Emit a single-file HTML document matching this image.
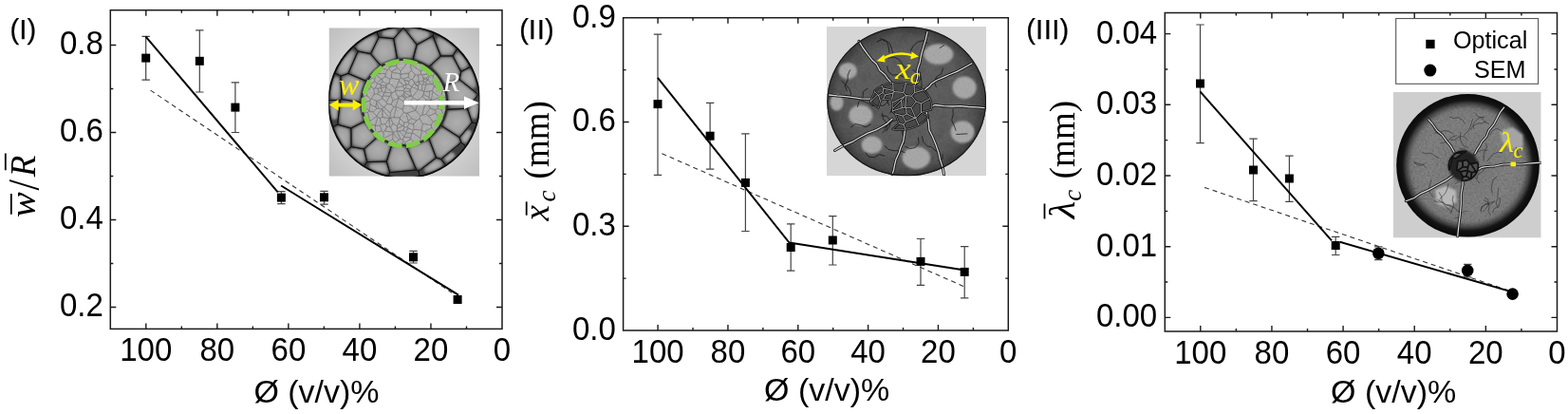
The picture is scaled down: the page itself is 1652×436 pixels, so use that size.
<!DOCTYPE html><html><head><meta charset="utf-8"><title>Figure</title><style>html,body{margin:0;padding:0;background:#fff;width:1652px;height:436px;overflow:hidden}svg{display:block}.tl{font-family:'Liberation Sans', Arial, sans-serif;font-size:35.4px;fill:#000}.pl{font-family:'Liberation Sans', Arial, sans-serif;font-size:29.4px;fill:#000;stroke:#000;stroke-width:0.25px}.xl{font-family:'Liberation Sans', Arial, sans-serif;font-size:34px;fill:#000}.sf{font-family:'Liberation Serif', 'Times New Roman', serif;font-size:37px;fill:#000}.lg{font-family:'Liberation Sans', Arial, sans-serif;font-size:25.2px;fill:#000}</style></head><body>
<svg width="1652" height="436" viewBox="0 0 1652 436">
<rect width="1652" height="436" fill="#fff"/>
<defs><radialGradient id="cellg" cx="50%" cy="50%" r="62%"><stop offset="0" stop-color="#afafaf"/><stop offset="0.65" stop-color="#a0a0a0"/><stop offset="1" stop-color="#7c7c7c"/></radialGradient><radialGradient id="bg1" cx="50%" cy="50%" r="72%"><stop offset="0.7" stop-color="#d0d0d0"/><stop offset="1" stop-color="#bcbcbc"/></radialGradient><radialGradient id="rim2" cx="50%" cy="50%" r="50%"><stop offset="0" stop-color="#3c3c3c"/><stop offset="0.7" stop-color="#3e3e3e"/><stop offset="0.9" stop-color="#2c2c2c"/><stop offset="0.98" stop-color="#161616"/><stop offset="1" stop-color="#262626"/></radialGradient><radialGradient id="rim3" cx="50%" cy="50%" r="50%"><stop offset="0" stop-color="#545454"/><stop offset="0.6" stop-color="#626262"/><stop offset="0.78" stop-color="#5a5a5a"/><stop offset="0.86" stop-color="#333"/><stop offset="0.91" stop-color="#151515"/><stop offset="1" stop-color="#080808"/></radialGradient><radialGradient id="patch" cx="50%" cy="50%" r="50%"><stop offset="0" stop-color="#a2a2a2"/><stop offset="0.75" stop-color="#989898"/><stop offset="1" stop-color="#7a7a7a" stop-opacity="0"/></radialGradient><filter id="nz" x="0" y="0" width="100%" height="100%"><feTurbulence type="fractalNoise" baseFrequency="0.45" numOctaves="2" seed="4"/><feColorMatrix type="matrix" values="0.5 0.5 0 0 0  0.5 0.5 0 0 0  0.5 0.5 0 0 0  0 0 0 0 1"/></filter><filter id="nz2" x="0" y="0" width="100%" height="100%"><feTurbulence type="fractalNoise" baseFrequency="0.08" numOctaves="3" seed="9"/><feColorMatrix type="matrix" values="0.5 0.5 0 0 0  0.5 0.5 0 0 0  0.5 0.5 0 0 0  0 0 0 0 1"/></filter><filter id="nzc" x="0" y="0" width="100%" height="100%"><feTurbulence type="fractalNoise" baseFrequency="0.45" numOctaves="2" seed="6"/><feColorMatrix type="matrix" values="0.5 0.5 0 0 0  0.5 0.5 0 0 0  0.5 0.5 0 0 0  0 0 0 0 1"/><feComposite operator="in" in2="SourceAlpha"/></filter><radialGradient id="fade3" cx="50%" cy="50%" r="50%"><stop offset="0" stop-color="#fff"/><stop offset="0.8" stop-color="#fff"/><stop offset="0.92" stop-color="#000"/></radialGradient><mask id="m3" maskUnits="userSpaceOnUse" x="1467" y="96" width="158" height="156"><circle cx="1546.5" cy="174.3" r="75.3" fill="url(#fade3)"/></mask><filter id="bl1"><feGaussianBlur stdDeviation="0.9"/></filter><filter id="bl2"><feGaussianBlur stdDeviation="2.2"/></filter><clipPath id="c1"><rect x="346.5" y="29.3" width="158.7" height="156.4"/></clipPath><clipPath id="c2"><rect x="871" y="28" width="168" height="157.3"/></clipPath><clipPath id="c3"><rect x="1467.8" y="97" width="155.9" height="153.6"/></clipPath><clipPath id="d1"><circle cx="425.9" cy="107.6" r="44"/></clipPath><clipPath id="d2"><ellipse cx="955.2" cy="106.8" rx="83.8" ry="78.6"/></clipPath><clipPath id="d3"><circle cx="1546.5" cy="174.3" r="75.3"/></clipPath></defs>
<g clip-path="url(#c1)">
<rect x="346.5" y="29.3" width="158.7" height="156.4" fill="url(#bg1)"/>
<circle cx="425.9" cy="107.8" r="80.3" fill="#404040"/>
<g filter="url(#bl1)">
<path d="M467.4 129.2L467.3 129.5L467.2 129.8L467.1 130.1L467.1 130.4L467.0 130.7L467.1 131.0L467.1 131.2L467.2 131.5L467.3 131.8L467.4 132.1L467.6 132.3L467.7 132.6L467.9 132.8L468.2 133.0L468.4 133.1L481.6 141.8L481.9 141.9L482.2 142.0L482.4 142.1L482.7 142.2L483.0 142.2L483.3 142.3L483.6 142.2L483.9 142.2L484.1 142.1L484.4 142.0L484.7 141.9L484.9 141.8L485.2 141.6L485.4 141.4L485.6 141.2L495.0 130.0L495.2 129.8L495.3 129.5L495.5 129.2L495.6 128.9L495.6 128.6L495.7 128.3L495.7 128.0L495.7 127.7L495.6 127.4L495.5 127.1L492.3 117.7L492.2 117.4L492.1 117.1L491.9 116.9L491.7 116.6L491.5 116.4L491.3 116.2L491.0 116.1L490.8 115.9L490.5 115.8L490.2 115.7L489.9 115.7L489.6 115.6L489.3 115.6L474.1 116.4L473.8 116.4L473.5 116.4L473.2 116.5L472.9 116.6L472.7 116.8L472.4 116.9L472.2 117.1L472.0 117.3L471.8 117.6L471.6 117.8L471.5 118.1L471.4 118.4L471.3 118.7L471.2 119.1L471.2 119.2L470.9 120.2L470.9 120.3L470.6 121.3L470.6 121.4L470.3 122.4L470.2 122.5L469.9 123.5L469.9 123.6L469.5 124.6L469.5 124.6L469.1 125.6L469.0 125.7L468.6 126.7L468.6 126.8L468.1 127.7L468.1 127.8L467.6 128.8L467.6 128.8Z" fill="url(#cellg)"/>
<path d="M454.9 144.4L454.6 144.6L454.4 144.8L454.3 145.1L454.1 145.3L454.0 145.6L453.9 145.8L453.8 146.1L453.8 146.4L453.7 146.7L453.7 147.0L453.8 147.3L453.8 147.5L453.9 147.8L459.8 163.7L460.0 164.0L460.1 164.2L460.2 164.4L460.4 164.7L460.6 164.9L460.8 165.0L461.1 165.2L461.3 165.3L461.6 165.4L461.8 165.5L462.9 165.8L463.2 165.9L463.5 166.0L463.8 166.0L464.0 165.9L464.3 165.9L464.6 165.8L464.9 165.7L465.1 165.6L465.4 165.5L465.6 165.3L482.9 151.0L483.1 150.8L483.3 150.6L483.5 150.3L483.7 150.1L483.8 149.8L483.9 149.5L484.0 149.2L484.0 148.9L484.0 148.6L484.0 148.3L483.9 148.0L483.8 147.7L483.4 146.6L483.3 146.3L483.2 146.0L483.1 145.8L482.9 145.6L482.7 145.4L482.5 145.2L482.2 145.0L467.2 135.2L467.0 135.1L466.7 134.9L466.4 134.8L466.1 134.8L465.8 134.7L465.5 134.7L465.2 134.8L464.9 134.8L464.6 134.9L464.3 135.0L464.1 135.1L463.8 135.3L463.6 135.5L463.4 135.7L463.2 135.9L462.7 136.5L462.7 136.6L462.0 137.4L462.0 137.5L461.3 138.3L461.2 138.3L460.5 139.1L460.5 139.2L459.7 140.0L459.7 140.0L458.9 140.8L458.9 140.8L458.1 141.6L458.1 141.6L457.3 142.4L457.2 142.4L456.4 143.1L456.4 143.2L455.6 143.9L455.5 143.9Z" fill="url(#cellg)"/>
<path d="M433.2 153.9L432.9 154.0L432.6 154.1L432.4 154.2L432.1 154.3L431.9 154.5L431.7 154.7L431.5 154.9L431.3 155.1L431.1 155.3L431.0 155.6L430.9 155.8L430.8 156.1L430.7 156.4L430.7 156.7L430.7 157.0L430.7 157.3L430.8 157.5L430.8 157.8L430.9 158.1L438.8 175.9L438.9 176.2L439.1 176.4L439.3 176.7L439.5 176.9L439.7 177.1L440.0 177.3L440.2 177.4L440.5 177.5L440.8 177.6L441.1 177.7L441.4 177.7L441.7 177.7L442.0 177.7L442.3 177.6L442.6 177.5L442.9 177.4L443.1 177.2L443.4 177.1L456.3 167.0L456.5 166.9L456.7 166.6L456.9 166.4L457.0 166.2L457.2 165.9L457.3 165.6L457.4 165.4L457.4 165.1L457.4 164.8L457.4 164.5L457.4 164.2L457.3 163.9L457.3 163.6L452.3 150.5L452.2 150.2L452.1 149.9L451.9 149.7L451.7 149.4L451.5 149.2L451.3 149.1L451.0 148.9L450.7 148.8L450.4 148.7L450.1 148.6L449.8 148.5L449.5 148.5L449.2 148.5L448.9 148.6L448.6 148.7L448.4 148.8L448.1 148.9L447.9 149.0L447.9 149.0L446.9 149.5L446.9 149.5L445.9 150.0L445.8 150.0L444.9 150.5L444.8 150.5L443.8 150.9L443.7 151.0L442.7 151.4L442.7 151.4L441.7 151.8L441.6 151.8L440.6 152.1L440.5 152.2L439.5 152.5L439.4 152.5L438.4 152.8L438.3 152.8L437.3 153.1L437.2 153.1L436.2 153.4L436.1 153.4L435.0 153.6L435.0 153.6L433.9 153.8L433.9 153.8Z" fill="url(#cellg)"/>
<path d="M408.9 169.2L408.8 169.4L408.7 169.7L408.7 170.0L408.7 170.3L408.8 170.6L408.8 170.9L410.9 178.0L410.9 178.3L411.1 178.5L411.2 178.8L411.4 179.0L411.6 179.3L411.8 179.5L412.0 179.6L412.3 179.8L412.6 179.9L412.8 180.0L413.1 180.1L413.4 180.2L413.7 180.2L414.0 180.2L432.9 178.4L433.2 178.3L433.5 178.2L433.8 178.1L434.1 178.0L434.3 177.9L434.6 177.7L434.8 177.5L435.0 177.3L435.2 177.0L435.3 176.8L435.4 176.5L435.5 176.2L435.6 175.9L435.6 175.6L435.6 175.3L435.6 175.0L435.6 174.7L435.5 174.4L435.4 174.2L427.5 156.3L427.4 156.0L427.2 155.8L427.1 155.6L426.9 155.3L426.7 155.2L426.4 155.0L426.2 154.8L425.9 154.7L425.6 154.6L425.4 154.5L425.1 154.5L424.8 154.5L424.8 154.5L424.7 154.5L423.6 154.4L423.6 154.4L422.5 154.4L422.4 154.4L421.4 154.3L421.3 154.3L420.2 154.2L420.2 154.1L419.1 154.0L419.0 154.0L417.9 153.8L417.9 153.8L416.8 153.6L416.8 153.6L416.5 153.5L416.2 153.5L416.0 153.5L415.7 153.5L415.4 153.5L415.1 153.6L414.8 153.7L414.5 153.8L414.3 154.0L414.0 154.2L413.8 154.3L413.6 154.6L413.4 154.8L413.3 155.1L413.2 155.3L413.1 155.6Z" fill="url(#cellg)"/>
<path d="M386.1 156.1L385.9 156.3L385.7 156.6L385.6 156.8L385.4 157.1L385.3 157.3L385.2 157.6L385.2 157.9L385.1 158.2L385.1 158.5L385.2 158.8L385.2 159.1L387.1 167.0L387.1 167.3L387.2 167.5L387.4 167.8L387.5 168.1L387.7 168.3L387.9 168.5L388.1 168.7L388.4 168.9L388.6 169.0L388.9 169.1L389.2 169.2L389.5 169.3L389.8 169.3L390.1 169.3L404.3 168.9L404.6 168.9L404.9 168.8L405.2 168.7L405.4 168.6L405.7 168.5L405.9 168.4L406.2 168.2L406.4 168.0L406.6 167.8L406.7 167.5L406.9 167.3L407.0 167.0L407.1 166.8L410.7 155.0L410.8 154.7L410.8 154.4L410.9 154.1L410.8 153.8L410.8 153.5L410.7 153.2L410.6 153.0L410.5 152.7L410.3 152.4L410.2 152.2L410.0 152.0L409.7 151.8L409.5 151.6L409.2 151.4L409.0 151.3L408.1 151.0L408.0 150.9L407.0 150.5L406.9 150.5L406.0 150.0L405.9 150.0L404.9 149.5L404.9 149.5L403.9 149.0L403.9 149.0L402.9 148.4L402.9 148.4L401.9 147.9L401.9 147.8L400.9 147.3L400.9 147.2L400.1 146.7L399.8 146.6L399.5 146.4L399.3 146.3L399.0 146.3L398.7 146.2L398.4 146.2L398.1 146.2L397.8 146.3L397.5 146.4L397.2 146.5L396.9 146.6L396.7 146.8L396.4 147.0Z" fill="url(#cellg)"/>
<path d="M372.7 134.9L372.4 135.0L372.2 135.2L372.0 135.4L371.8 135.6L371.6 135.9L371.4 136.1L371.3 136.4L371.2 136.7L371.1 137.0L371.1 137.3L371.1 137.6L371.2 151.1L371.3 151.4L371.3 151.7L371.4 152.0L371.5 152.2L371.6 152.5L371.8 152.8L372.0 153.0L372.2 153.2L372.4 153.4L372.6 153.6L372.9 153.7L373.2 153.8L373.4 153.9L373.7 154.0L381.7 155.4L382.0 155.4L382.3 155.4L382.6 155.4L382.9 155.3L383.2 155.3L383.4 155.1L383.7 155.0L384.0 154.8L384.2 154.7L393.8 146.2L394.0 146.0L394.2 145.7L394.3 145.5L394.5 145.2L394.6 145.0L394.7 144.7L394.7 144.4L394.8 144.1L394.8 143.8L394.7 143.5L394.7 143.2L394.6 142.9L394.5 142.7L394.4 142.4L394.2 142.2L394.0 141.9L393.8 141.7L393.7 141.6L393.7 141.6L392.9 140.8L392.9 140.8L392.1 140.0L392.1 140.0L391.3 139.2L391.3 139.1L390.6 138.3L390.5 138.3L389.8 137.5L389.8 137.4L389.1 136.6L389.1 136.5L388.4 135.6L388.4 135.6L387.7 134.7L387.7 134.7L387.1 133.8L387.1 133.7L386.5 132.8L386.4 132.8L385.9 131.8L385.8 131.8L385.6 131.5L385.5 131.2L385.3 131.0L385.1 130.8L384.8 130.6L384.6 130.4L384.3 130.3L384.0 130.1L383.8 130.1L383.5 130.0L383.2 130.0L382.9 130.0L382.6 130.0L382.3 130.1L382.0 130.2L381.7 130.3Z" fill="url(#cellg)"/>
<path d="M362.8 106.2L362.5 106.2L362.2 106.2L361.9 106.2L361.6 106.2L361.3 106.3L361.1 106.4L360.8 106.5L360.6 106.7L360.4 106.9L360.1 107.1L359.9 107.3L359.8 107.5L359.6 107.8L359.5 108.0L359.4 108.3L359.3 108.6L359.3 108.8L357.3 127.8L357.2 128.1L357.3 128.4L357.3 128.7L357.4 129.0L357.5 129.3L357.6 129.5L357.8 129.8L358.0 130.0L358.2 130.3L358.4 130.5L358.6 130.6L358.9 130.8L359.2 130.9L359.5 131.0L368.6 133.4L368.9 133.5L369.2 133.5L369.5 133.5L369.8 133.5L370.1 133.4L370.4 133.3L370.7 133.2L380.8 128.1L381.0 127.9L381.3 127.8L381.5 127.6L381.7 127.4L381.9 127.1L382.0 126.9L382.2 126.6L382.3 126.4L382.3 126.1L382.4 125.8L382.4 125.5L382.4 125.2L382.4 124.9L382.3 124.6L382.2 124.4L381.9 123.6L381.9 123.5L381.6 122.5L381.5 122.4L381.2 121.4L381.2 121.3L380.9 120.3L380.9 120.2L380.6 119.2L380.6 119.1L380.3 118.1L380.3 118.0L380.1 116.9L380.1 116.9L379.9 115.8L379.9 115.8L379.7 114.7L379.7 114.6L379.6 113.5L379.5 113.5L379.4 112.4L379.4 112.3L379.3 111.3L379.3 111.2L379.3 110.9L379.2 110.7L379.1 110.4L379.0 110.1L378.9 109.9L378.7 109.6L378.5 109.4L378.3 109.2L378.1 109.0L377.9 108.9L377.6 108.7L377.4 108.6L377.1 108.5L376.8 108.5Z" fill="url(#cellg)"/>
<path d="M367.9 79.1L367.6 79.0L367.3 79.0L367.0 78.9L366.7 78.9L366.4 78.9L366.0 79.0L365.7 79.1L362.3 80.2L362.0 80.3L361.7 80.5L361.5 80.6L361.2 80.8L361.0 81.0L360.8 81.3L360.7 81.5L360.5 81.8L360.4 82.0L360.3 82.3L360.3 82.6L360.2 82.9L360.2 83.2L361.0 101.1L361.0 101.4L361.1 101.6L361.2 101.9L361.3 102.2L361.4 102.5L361.6 102.7L361.8 102.9L362.0 103.1L362.2 103.3L362.4 103.5L362.7 103.6L363.0 103.7L363.3 103.8L363.5 103.9L376.0 105.9L376.2 105.9L376.5 106.0L376.8 105.9L377.1 105.9L377.4 105.8L377.6 105.7L377.9 105.6L378.2 105.4L378.4 105.2L378.6 105.0L378.8 104.8L378.9 104.6L379.1 104.3L379.2 104.1L379.3 103.8L379.4 103.5L379.4 103.2L379.4 103.2L379.5 102.1L379.6 102.1L379.7 101.0L379.7 100.9L379.9 99.8L379.9 99.8L380.1 98.7L380.1 98.7L380.3 97.6L380.3 97.5L380.6 96.5L380.6 96.4L380.9 95.4L380.9 95.3L381.2 94.3L381.2 94.2L381.5 93.2L381.6 93.1L381.9 92.1L381.9 92.0L382.3 91.0L382.3 91.0L382.7 90.0L382.8 89.9L383.2 88.9L383.3 88.6L383.4 88.4L383.4 88.1L383.4 87.8L383.4 87.5L383.4 87.2L383.3 86.9L383.2 86.6L383.1 86.4L382.9 86.1L382.8 85.9L382.6 85.6L382.4 85.4L382.1 85.3L381.9 85.1L381.6 85.0Z" fill="url(#cellg)"/>
<path d="M383.3 83.1L383.6 83.2L383.9 83.3L384.2 83.3L384.5 83.3L384.8 83.3L385.1 83.3L385.4 83.2L385.6 83.1L385.9 83.0L386.2 82.8L386.4 82.6L386.6 82.4L386.8 82.2L387.0 82.0L387.1 81.9L387.1 81.8L387.7 80.9L387.7 80.9L388.4 80.0L388.4 80.0L389.1 79.1L389.1 79.0L389.8 78.2L389.8 78.1L390.5 77.3L390.6 77.3L391.3 76.5L391.3 76.4L392.1 75.6L392.1 75.6L392.9 74.8L392.9 74.8L393.7 74.0L393.7 74.0L394.5 73.2L394.6 73.2L395.4 72.5L395.4 72.4L396.2 71.7L396.3 71.7L397.1 71.1L397.3 70.9L397.5 70.6L397.7 70.4L397.8 70.1L398.0 69.9L398.1 69.6L398.1 69.3L398.2 69.0L398.2 68.7L398.2 68.4L398.1 68.1L398.1 67.8L398.0 67.5L397.8 67.3L397.7 67.0L397.5 66.8L390.5 58.5L390.3 58.3L390.1 58.1L389.9 58.0L389.6 57.8L389.4 57.7L389.1 57.6L388.8 57.5L380.1 55.8L379.9 55.8L379.6 55.7L379.3 55.8L379.0 55.8L378.7 55.9L378.4 56.0L378.2 56.1L377.9 56.2L377.7 56.4L377.5 56.6L377.3 56.8L377.1 57.0L376.9 57.3L376.8 57.6L369.7 74.0L369.6 74.3L369.5 74.6L369.4 74.9L369.4 75.2L369.4 75.5L369.5 75.8L369.5 76.0L369.6 76.3L369.8 76.6L369.9 76.8L370.1 77.1L370.3 77.3L370.5 77.5L370.7 77.7L371.0 77.8L371.2 78.0Z" fill="url(#cellg)"/>
<path d="M400.0 66.0L400.2 66.2L400.4 66.4L400.6 66.6L400.9 66.7L401.2 66.9L401.4 67.0L401.7 67.0L402.0 67.1L402.3 67.1L402.6 67.1L402.9 67.0L403.2 66.9L403.5 66.8L403.7 66.7L403.9 66.6L403.9 66.6L404.9 66.1L404.9 66.1L405.9 65.6L406.0 65.6L406.9 65.1L407.0 65.1L408.0 64.7L408.1 64.6L409.1 64.2L409.1 64.2L410.1 63.8L410.2 63.8L411.2 63.5L411.3 63.4L412.3 63.1L412.4 63.1L413.4 62.8L413.5 62.8L414.5 62.5L414.6 62.5L414.6 62.5L414.9 62.4L415.2 62.3L415.4 62.2L415.7 62.0L415.9 61.8L416.1 61.6L416.3 61.3L416.5 61.1L416.6 60.8L416.7 60.5L416.8 60.3L416.9 60.0L416.9 59.7L416.9 59.4L416.8 59.1L414.2 44.1L414.2 43.8L414.1 43.5L413.9 43.2L413.8 43.0L413.6 42.7L413.4 42.5L413.2 42.3L413.0 42.1L412.7 42.0L412.4 41.8L412.1 41.7L411.9 41.7L411.6 41.6L401.9 40.6L401.6 40.6L401.3 40.6L401.0 40.7L400.7 40.8L400.4 40.9L400.1 41.0L399.9 41.2L399.6 41.3L399.4 41.6L399.2 41.8L399.0 42.0L398.9 42.3L392.8 54.7L392.7 55.0L392.6 55.3L392.5 55.5L392.5 55.8L392.5 56.1L392.5 56.4L392.6 56.7L392.6 57.0L392.7 57.2L392.9 57.5L393.0 57.7L393.2 58.0Z" fill="url(#cellg)"/>
<path d="M419.2 58.8L419.3 59.0L419.4 59.3L419.5 59.6L419.7 59.9L419.8 60.1L420.0 60.3L420.2 60.5L420.5 60.7L420.7 60.9L421.0 61.0L421.3 61.1L421.6 61.2L421.9 61.2L422.1 61.2L422.4 61.2L422.4 61.2L422.5 61.2L423.6 61.2L423.6 61.2L424.7 61.1L424.8 61.1L425.9 61.1L425.9 61.1L427.0 61.1L427.1 61.1L428.2 61.2L428.2 61.2L429.3 61.2L429.4 61.2L430.4 61.3L430.5 61.3L431.5 61.4L431.8 61.5L432.1 61.4L432.4 61.4L432.7 61.3L433.0 61.2L433.3 61.1L433.5 60.9L433.8 60.7L434.0 60.5L434.2 60.3L434.4 60.1L434.5 59.8L434.6 59.5L434.7 59.2L437.5 48.8L437.6 48.5L437.6 48.2L437.6 47.9L437.6 47.6L437.5 47.3L437.4 47.0L437.3 46.7L437.2 46.4L437.0 46.2L427.2 33.7L427.0 33.5L426.8 33.3L426.6 33.1L426.3 32.9L426.0 32.8L425.8 32.7L425.5 32.6L425.2 32.6L424.9 32.6L424.6 32.6L424.3 32.6L424.0 32.7L423.8 32.8L423.5 32.9L423.2 33.0L423.0 33.2L422.8 33.4L422.6 33.6L417.1 40.0L416.9 40.2L416.7 40.5L416.6 40.8L416.5 41.0L416.4 41.3L416.4 41.6L416.3 41.9L416.3 42.2L416.4 42.5Z" fill="url(#cellg)"/>
<path d="M437.2 59.4L437.1 59.7L437.1 60.0L437.1 60.3L437.1 60.5L437.1 60.8L437.2 61.1L437.3 61.4L437.5 61.6L437.6 61.9L437.8 62.1L438.0 62.3L438.2 62.5L438.4 62.7L438.7 62.8L439.0 63.0L439.2 63.0L439.4 63.1L439.5 63.1L440.5 63.4L440.6 63.5L441.6 63.8L441.7 63.8L442.7 64.2L442.7 64.2L443.7 64.6L443.8 64.7L444.8 65.1L444.9 65.1L445.8 65.6L445.9 65.6L446.9 66.1L446.9 66.1L447.9 66.6L447.9 66.6L448.9 67.2L448.9 67.2L449.9 67.7L450.0 67.8L450.0 67.8L450.2 67.9L450.5 68.0L450.8 68.1L451.1 68.2L451.4 68.2L451.7 68.2L451.9 68.2L452.2 68.1L452.5 68.0L452.8 67.9L453.1 67.8L453.3 67.6L453.5 67.4L461.4 60.1L461.6 59.9L461.8 59.6L462.0 59.4L462.1 59.1L462.2 58.8L462.3 58.6L462.4 58.3L462.4 58.0L462.4 57.7L462.4 57.4L462.3 57.1L462.2 56.8L456.7 42.7L456.6 42.4L456.4 42.2L456.2 41.9L456.0 41.7L455.8 41.5L455.6 41.3L455.3 41.2L455.1 41.0L454.8 40.9L454.5 40.9L454.2 40.8L453.9 40.8L453.6 40.8L453.3 40.9L453.0 40.9L452.7 41.0L452.5 41.2L441.4 47.3L441.1 47.4L440.9 47.6L440.7 47.8L440.5 48.0L440.3 48.3L440.1 48.5L440.0 48.8L439.9 49.1Z" fill="url(#cellg)"/>
<path d="M456.4 68.0L456.2 68.2L456.0 68.5L455.8 68.7L455.7 69.0L455.6 69.3L455.5 69.5L455.5 69.8L455.4 70.1L455.4 70.4L455.5 70.7L455.5 71.0L455.6 71.3L455.7 71.5L455.9 71.8L456.1 72.0L456.2 72.3L456.5 72.5L457.2 73.2L457.3 73.2L458.1 74.0L458.1 74.0L458.9 74.8L458.9 74.8L459.7 75.6L459.7 75.6L460.5 76.4L460.5 76.5L461.2 77.3L461.3 77.3L462.0 78.1L462.0 78.2L462.7 79.0L462.7 79.1L463.4 80.0L463.4 80.0L464.1 80.9L464.1 80.9L464.7 81.8L464.7 81.9L465.3 82.8L465.4 82.8L465.9 83.8L466.0 83.8L466.5 84.8L466.5 84.8L467.1 85.8L467.1 85.8L467.6 86.7L467.7 86.9L467.9 87.2L468.1 87.4L468.3 87.6L468.5 87.8L468.7 87.9L469.0 88.0L469.2 88.1L469.5 88.2L469.8 88.3L470.1 88.3L470.4 88.3L470.7 88.3L470.9 88.2L471.2 88.1L471.5 88.0L481.5 83.3L481.8 83.2L482.0 83.0L482.3 82.8L482.5 82.6L482.7 82.4L482.9 82.1L483.0 81.9L483.1 81.6L483.2 81.3L484.2 76.7L484.3 76.4L484.3 76.1L484.3 75.8L484.2 75.5L484.2 75.2L484.1 74.9L483.9 74.7L477.1 61.7L477.0 61.4L476.8 61.2L476.6 61.0L476.4 60.8L476.2 60.6L475.9 60.4L475.6 60.3L475.3 60.2L475.1 60.2L474.8 60.1L474.5 60.1L466.0 60.2L465.7 60.2L465.4 60.3L465.2 60.3L464.9 60.4L464.7 60.5L464.4 60.7L464.2 60.8L464.0 61.0Z" fill="url(#cellg)"/>
<path d="M472.1 90.4L471.9 90.5L471.6 90.7L471.4 90.9L471.2 91.1L471.0 91.3L470.8 91.5L470.7 91.8L470.6 92.0L470.5 92.3L470.4 92.6L470.4 92.9L470.4 93.2L470.4 93.4L470.4 93.7L470.5 94.0L470.6 94.2L470.6 94.3L470.9 95.3L470.9 95.4L471.2 96.4L471.2 96.5L471.5 97.5L471.5 97.6L471.7 98.7L471.7 98.7L471.9 99.8L471.9 99.8L472.1 100.9L472.1 101.0L472.2 102.1L472.3 102.1L472.4 103.2L472.4 103.3L472.5 104.3L472.5 104.4L472.5 105.5L472.5 105.5L472.6 106.6L472.6 106.7L472.6 107.8L472.6 107.8L472.6 108.9L472.6 109.0L472.5 110.1L472.5 110.1L472.5 110.7L472.5 111.0L472.5 111.3L472.6 111.6L472.7 111.9L472.8 112.1L472.9 112.4L473.1 112.6L473.3 112.9L473.5 113.1L473.7 113.3L473.9 113.4L474.2 113.6L474.5 113.7L474.8 113.8L475.1 113.8L475.3 113.9L475.6 113.9L490.5 113.2L490.8 113.2L491.0 113.1L491.3 113.0L491.6 112.9L491.8 112.8L492.1 112.6L492.3 112.5L492.5 112.3L492.7 112.1L500.5 102.2L500.7 101.9L500.8 101.7L500.9 101.4L501.0 101.1L501.1 100.8L501.1 100.6L501.1 100.3L501.1 100.0L501.1 99.7L501.0 99.4L500.9 99.1L500.8 98.9L500.6 98.6L500.4 98.4L500.2 98.2L500.0 98.0L485.2 86.1L484.9 85.9L484.7 85.8L484.4 85.7L484.1 85.6L483.8 85.5L483.5 85.5L483.2 85.5L482.9 85.5L482.6 85.5L482.3 85.6L482.1 85.7Z" fill="url(#cellg)"/>
<path d="M496.7 123.2L496.9 123.5L497.0 123.8L497.1 124.0L497.3 124.2L497.5 124.5L497.8 124.6L498.0 124.8L498.2 125.0L498.5 125.1L498.8 125.2L499.1 125.2L499.4 125.3L499.7 125.3L500.0 125.3L500.2 125.2L500.5 125.1L500.8 125.0L501.1 124.9L501.3 124.7L501.5 124.6L501.7 124.4L501.9 124.1L502.1 123.9L502.3 123.6L502.4 123.4L502.5 123.1L502.5 122.8L502.8 121.2L502.9 121.1L503.1 119.3L503.2 119.2L503.4 117.4L503.4 117.3L503.6 115.5L503.6 115.4L503.8 113.6L503.8 113.5L503.9 111.7L503.9 111.6L504.0 110.4L503.9 110.1L503.9 109.8L503.9 109.6L503.8 109.3L503.7 109.0L503.5 108.8L503.4 108.5L503.2 108.3L503.0 108.1L502.8 107.9L502.5 107.7L502.3 107.6L502.0 107.5L501.7 107.4L501.4 107.3L501.1 107.3L500.9 107.3L500.6 107.3L500.3 107.4L500.0 107.5L499.7 107.6L499.5 107.7L499.2 107.8L499.0 108.0L498.8 108.2L498.6 108.4L494.8 113.2L494.6 113.5L494.5 113.7L494.4 114.0L494.3 114.3L494.2 114.6L494.2 114.9L494.2 115.2L494.2 115.5L494.2 115.8L494.3 116.1Z" fill="url(#cellg)"/>
<path d="M487.7 150.0L487.9 150.1L488.2 150.3L488.5 150.4L488.7 150.5L489.0 150.6L489.3 150.6L489.6 150.6L489.9 150.6L490.2 150.6L490.5 150.5L490.8 150.4L491.1 150.2L491.3 150.1L491.5 149.9L491.8 149.7L491.9 149.4L492.1 149.2L492.9 148.0L492.9 147.9L493.8 146.3L493.9 146.3L494.8 144.6L494.8 144.6L495.6 142.9L495.7 142.9L496.5 141.2L496.5 141.2L496.6 141.0L496.7 140.7L496.8 140.4L496.9 140.1L496.9 139.8L496.9 139.5L496.8 139.2L496.8 138.9L496.7 138.6L496.6 138.4L496.4 138.1L496.3 137.9L496.1 137.6L495.8 137.4L495.6 137.3L495.4 137.1L495.1 137.0L494.8 136.9L494.5 136.8L494.2 136.7L493.9 136.7L493.6 136.7L493.4 136.8L493.1 136.8L492.8 136.9L492.5 137.0L492.3 137.2L492.0 137.4L491.8 137.6L491.6 137.8L486.6 143.8L486.4 144.0L486.2 144.3L486.1 144.6L486.0 144.8L485.9 145.1L485.9 145.4L485.9 145.8L485.9 146.1L485.9 146.4L486.0 146.7L486.7 148.5L486.8 148.8L486.9 149.1L487.0 149.3L487.2 149.5L487.4 149.7L487.6 149.9Z" fill="url(#cellg)"/>
<path d="M469.1 165.5L468.9 165.7L468.7 165.9L468.5 166.1L468.4 166.4L468.3 166.7L468.2 166.9L468.1 167.2L468.1 167.5L468.0 167.8L468.0 168.1L468.1 168.4L468.2 168.7L468.3 168.9L468.4 169.2L468.5 169.4L468.7 169.7L468.9 169.9L469.1 170.1L469.3 170.3L469.6 170.4L469.8 170.6L470.1 170.7L470.4 170.7L470.7 170.8L471.0 170.8L471.2 170.8L471.5 170.8L471.8 170.7L472.1 170.6L472.4 170.5L472.6 170.4L472.9 170.2L473.9 169.4L474.0 169.3L475.4 168.2L475.5 168.1L476.9 167.0L476.9 166.9L478.3 165.7L478.4 165.6L478.4 165.6L478.6 165.4L478.8 165.2L479.0 164.9L479.1 164.7L479.2 164.4L479.3 164.1L479.3 163.8L479.4 163.5L479.4 163.2L479.3 162.9L479.3 162.6L479.2 162.3L479.0 162.1L478.9 161.8L478.7 161.6L478.5 161.3L478.3 161.1L478.1 160.9L477.8 160.8L477.5 160.7L477.3 160.6L477.0 160.5L476.7 160.4L476.4 160.4L476.1 160.4L475.8 160.5L475.5 160.5L475.2 160.6L474.9 160.8L474.7 160.9L474.5 161.1Z" fill="url(#cellg)"/>
<path d="M447.8 176.7L447.6 176.9L447.4 177.1L447.2 177.3L447.0 177.6L446.9 177.8L446.8 178.1L446.7 178.4L446.6 178.7L446.6 178.9L446.6 179.2L446.7 179.5L446.7 179.8L446.8 180.1L446.9 180.4L447.0 180.6L447.2 180.8L447.4 181.1L447.6 181.3L447.8 181.5L448.1 181.6L448.3 181.8L448.6 181.9L448.9 182.0L449.2 182.0L449.4 182.1L449.7 182.1L450.0 182.0L450.3 182.0L450.6 181.9L452.2 181.3L452.2 181.3L454.0 180.7L454.0 180.7L455.8 180.0L455.8 179.9L457.5 179.2L457.6 179.2L459.3 178.4L459.3 178.4L461.0 177.6L461.0 177.5L462.7 176.7L462.7 176.7L464.4 175.8L464.4 175.7L464.9 175.4L465.2 175.3L465.4 175.1L465.6 174.9L465.8 174.6L466.0 174.4L466.1 174.1L466.2 173.9L466.3 173.6L466.4 173.3L466.4 173.0L466.4 172.7L466.4 172.4L466.3 172.1L466.2 171.8L466.1 171.5L466.0 171.3L465.8 171.0L464.6 169.4L464.4 169.2L464.1 169.0L463.9 168.8L463.6 168.6L463.3 168.5L463.0 168.4L461.2 167.8L460.9 167.8L460.6 167.7L460.3 167.7L460.1 167.7L459.8 167.8L459.5 167.9L459.2 167.9L459.0 168.1L458.7 168.2L458.5 168.4Z" fill="url(#cellg)"/>
<path d="M391.6 171.7L391.3 171.7L391.1 171.7L390.8 171.8L390.5 171.9L390.2 172.1L390.0 172.2L389.8 172.4L389.5 172.6L389.4 172.8L389.2 173.1L389.0 173.3L388.9 173.6L388.8 173.9L388.8 174.1L388.7 174.4L388.7 174.7L388.7 175.0L388.8 175.3L388.9 175.6L389.0 175.9L389.1 176.1L389.3 176.4L389.4 176.6L389.6 176.8L389.8 177.0L390.1 177.2L390.3 177.3L390.8 177.5L390.8 177.6L392.5 178.4L392.5 178.4L394.2 179.2L394.3 179.2L396.0 179.9L396.0 180.0L397.8 180.7L397.8 180.7L399.6 181.3L399.6 181.3L401.4 181.9L401.4 182.0L403.2 182.5L403.3 182.5L405.0 183.1L405.3 183.1L405.6 183.2L405.9 183.2L406.2 183.2L406.5 183.1L406.7 183.0L407.0 182.9L407.3 182.8L407.5 182.7L407.8 182.5L408.0 182.3L408.2 182.1L408.3 181.9L408.5 181.6L408.6 181.4L408.7 181.1L408.8 180.8L408.8 180.5L408.9 180.2L408.9 179.9L408.8 179.6L408.7 179.4L407.1 173.5L407.0 173.2L406.9 172.9L406.7 172.6L406.5 172.4L406.3 172.2L406.1 172.0L405.8 171.8L405.6 171.6L405.3 171.5L405.0 171.4L404.7 171.3L404.4 171.3L404.1 171.3Z" fill="url(#cellg)"/>
<path d="M369.2 156.8L369.0 157.0L368.8 157.2L368.6 157.4L368.5 157.7L368.4 157.9L368.3 158.2L368.2 158.5L368.1 158.8L368.1 159.1L368.1 159.4L368.1 159.6L368.2 159.9L368.3 160.2L368.4 160.5L368.6 160.7L368.7 161.0L368.9 161.2L369.3 161.6L369.4 161.7L370.6 163.0L370.7 163.1L372.0 164.3L372.1 164.4L373.4 165.6L373.5 165.7L374.9 166.9L374.9 167.0L376.3 168.1L376.4 168.2L377.8 169.3L377.9 169.4L379.3 170.5L379.4 170.6L380.1 171.1L380.4 171.2L380.6 171.4L380.9 171.5L381.2 171.6L381.5 171.6L381.8 171.6L382.1 171.6L382.3 171.6L382.6 171.6L382.9 171.5L383.2 171.4L383.4 171.2L383.7 171.1L383.9 170.9L384.1 170.7L384.3 170.5L384.5 170.2L384.6 170.0L384.7 169.7L384.8 169.4L384.9 169.1L384.9 168.8L384.9 168.5L384.9 168.3L384.8 168.0L382.9 159.9L382.9 159.6L382.7 159.3L382.6 159.1L382.5 158.8L382.3 158.6L382.1 158.4L381.9 158.2L381.6 158.0L381.4 157.9L381.1 157.8L380.8 157.7L380.5 157.6L371.7 156.1L371.5 156.1L371.2 156.0L370.9 156.1L370.6 156.1L370.4 156.2L370.1 156.3L369.8 156.4L369.6 156.5L369.4 156.7Z" fill="url(#cellg)"/>
<path d="M357.0 132.8L356.7 132.7L356.4 132.7L356.1 132.7L355.8 132.7L355.5 132.8L355.2 132.9L355.0 133.0L354.7 133.1L354.5 133.2L354.2 133.4L354.0 133.6L353.8 133.8L353.7 134.1L353.5 134.3L353.4 134.6L353.3 134.8L353.2 135.1L353.2 135.4L353.2 135.7L353.2 136.0L353.2 136.3L353.3 136.5L353.4 136.8L353.7 137.7L353.8 137.7L354.5 139.4L354.5 139.5L355.3 141.2L355.3 141.2L356.1 142.9L356.2 142.9L357.0 144.6L357.0 144.6L357.9 146.3L358.0 146.3L358.9 147.9L358.9 148.0L359.9 149.6L359.9 149.6L360.9 151.2L361.0 151.2L362.0 152.7L362.1 152.8L363.1 154.3L363.2 154.4L363.3 154.5L363.5 154.7L363.7 155.0L364.0 155.1L364.2 155.3L364.5 155.4L364.7 155.5L365.0 155.6L365.3 155.7L365.6 155.7L365.9 155.7L366.2 155.7L366.5 155.6L366.8 155.5L367.1 155.4L367.3 155.2L367.6 155.1L367.7 154.9L368.0 154.7L368.2 154.5L368.4 154.3L368.5 154.0L368.6 153.7L368.7 153.4L368.8 153.1L368.9 152.8L368.9 152.5L368.7 138.2L368.6 137.9L368.6 137.6L368.5 137.3L368.4 137.0L368.3 136.7L368.1 136.5L367.9 136.3L367.7 136.0L367.5 135.8L367.3 135.7L367.0 135.5L366.7 135.4L366.4 135.3Z" fill="url(#cellg)"/>
<path d="M350.9 106.8L350.5 106.8L350.2 106.8L350.0 106.9L349.7 107.0L349.4 107.1L349.1 107.3L348.9 107.5L348.7 107.7L348.5 107.9L348.3 108.1L348.2 108.4L348.0 108.7L347.9 109.0L347.9 109.3L347.8 109.6L347.8 109.9L347.9 111.6L347.9 111.7L348.0 113.5L348.0 113.6L348.2 115.4L348.2 115.5L348.4 117.3L348.4 117.4L348.6 119.2L348.7 119.3L348.9 121.1L349.0 121.2L349.3 123.0L349.3 123.1L349.4 123.6L349.5 123.9L349.6 124.1L349.7 124.4L349.9 124.6L350.0 124.9L350.2 125.1L350.5 125.3L350.7 125.5L351.0 125.6L351.2 125.7L351.5 125.8L351.8 125.9L352.1 125.9L352.4 126.0L352.6 125.9L352.9 125.9L353.2 125.8L353.5 125.7L353.8 125.6L354.0 125.5L354.2 125.3L354.5 125.1L354.7 124.9L354.8 124.6L355.0 124.4L355.1 124.1L355.2 123.8L355.3 123.6L355.3 123.3L356.7 110.1L356.8 109.8L356.8 109.5L356.7 109.2L356.6 108.9L356.5 108.7L356.4 108.4L356.3 108.1L356.1 107.9L355.9 107.7L355.7 107.5L355.5 107.3L355.2 107.2L354.9 107.0L354.7 106.9L354.4 106.8L354.1 106.8L353.8 106.8Z" fill="url(#cellg)"/>
<path d="M357.8 83.4L357.8 83.1L357.7 82.8L357.7 82.5L357.5 82.3L357.4 82.0L357.2 81.8L357.1 81.5L356.8 81.3L356.6 81.1L356.4 81.0L356.1 80.8L355.8 80.7L355.6 80.6L355.3 80.6L355.0 80.5L354.7 80.5L354.4 80.6L354.1 80.6L353.8 80.7L353.5 80.8L353.3 81.0L353.0 81.1L352.8 81.3L352.6 81.5L352.4 81.8L352.2 82.0L352.1 82.3L352.0 82.6L351.8 83.3L351.7 83.3L351.2 85.1L351.2 85.2L350.6 86.9L350.6 87.0L350.2 88.8L350.1 88.9L349.7 90.7L349.7 90.7L349.3 92.5L349.3 92.6L349.0 94.4L348.9 94.5L348.7 96.3L348.6 96.4L348.4 98.2L348.4 98.3L348.2 100.1L348.2 100.2L348.1 101.1L348.1 101.4L348.1 101.7L348.1 102.0L348.2 102.3L348.3 102.5L348.4 102.8L348.6 103.0L348.8 103.3L349.0 103.5L349.2 103.7L349.4 103.9L349.7 104.0L349.9 104.1L350.2 104.2L350.5 104.3L350.8 104.3L351.1 104.4L355.6 104.4L355.9 104.4L356.2 104.3L356.5 104.3L356.7 104.2L357.0 104.1L357.2 103.9L357.5 103.8L357.7 103.6L357.9 103.4L358.1 103.2L358.2 102.9L358.4 102.7L358.5 102.4L358.5 102.1L358.6 101.8L358.6 101.6L358.6 101.3Z" fill="url(#cellg)"/>
<path d="M355.6 73.8L355.5 74.0L355.4 74.3L355.3 74.6L355.3 74.9L355.3 75.2L355.3 75.5L355.4 75.7L355.5 76.0L355.6 76.3L355.7 76.6L355.8 76.8L356.0 77.0L356.2 77.2L356.4 77.4L356.7 77.6L356.9 77.7L357.9 78.2L358.1 78.3L358.4 78.4L358.7 78.5L359.0 78.5L359.3 78.6L359.6 78.5L359.9 78.5L360.2 78.4L364.7 76.9L365.0 76.8L365.2 76.6L365.5 76.5L365.7 76.3L365.9 76.1L366.1 75.9L366.3 75.7L366.4 75.5L366.5 75.2L374.4 57.1L374.5 56.8L374.6 56.5L374.6 56.2L374.6 55.9L374.6 55.6L374.6 55.3L374.5 55.0L374.4 54.8L374.3 54.5L374.1 54.2L374.0 54.0L373.8 53.8L373.6 53.6L373.3 53.4L373.1 53.2L372.8 53.1L372.5 53.0L372.2 52.9L371.9 52.9L371.6 52.9L371.3 52.9L371.0 52.9L370.8 53.0L370.5 53.1L370.2 53.2L370.0 53.4L369.7 53.6L369.5 53.8L369.4 53.9L369.3 54.0L368.1 55.3L368.0 55.4L366.8 56.8L366.7 56.8L365.6 58.2L365.5 58.3L364.4 59.7L364.3 59.8L363.2 61.2L363.1 61.3L362.1 62.8L362.0 62.9L361.0 64.4L360.9 64.4L359.9 66.0L359.9 66.0L358.9 67.6L358.9 67.7L358.0 69.3L357.9 69.3L357.0 71.0L357.0 71.0L356.2 72.7L356.1 72.7Z" fill="url(#cellg)"/>
<path d="M376.7 47.2L376.5 47.4L376.3 47.6L376.1 47.8L375.9 48.1L375.8 48.3L375.7 48.6L375.6 48.9L375.6 49.2L375.6 49.5L375.6 49.8L375.6 50.1L375.7 50.3L375.8 50.6L375.9 50.9L376.0 51.1L376.2 51.4L376.4 51.6L377.0 52.2L377.2 52.4L377.5 52.6L377.7 52.7L378.0 52.9L378.3 53.0L378.6 53.0L387.6 54.8L387.9 54.9L388.2 54.9L388.5 54.9L388.8 54.8L389.1 54.8L389.4 54.7L389.6 54.5L389.9 54.4L390.1 54.2L390.3 54.0L390.5 53.7L390.7 53.5L390.9 53.2L396.8 41.1L396.9 40.8L397.0 40.5L397.1 40.2L397.1 40.0L397.1 39.7L397.1 39.4L397.0 39.1L396.9 38.8L396.8 38.5L396.7 38.3L396.5 38.0L396.4 37.8L396.2 37.6L395.9 37.4L395.7 37.2L395.4 37.1L395.2 37.0L394.9 36.9L394.6 36.8L394.3 36.8L394.0 36.8L393.7 36.8L393.4 36.8L393.1 36.9L392.9 37.0L392.5 37.2L392.5 37.2L390.8 38.0L390.8 38.1L389.1 38.9L389.1 38.9L387.4 39.8L387.4 39.9L385.8 40.8L385.7 40.8L384.1 41.8L384.1 41.8L382.5 42.8L382.5 42.9L381.0 43.9L380.9 44.0L379.4 45.0L379.3 45.1L377.9 46.2L377.8 46.3Z" fill="url(#cellg)"/>
<path d="M404.5 32.7L404.3 32.8L404.0 32.9L403.7 33.1L403.5 33.2L403.3 33.4L403.1 33.6L402.9 33.9L402.7 34.1L402.6 34.4L402.5 34.7L402.4 35.0L402.4 35.2L402.4 35.5L402.4 35.8L402.4 36.1L402.5 36.4L402.6 36.7L402.7 37.0L402.9 37.2L403.1 37.5L403.2 37.7L403.5 37.9L403.7 38.1L404.0 38.2L404.2 38.3L404.5 38.4L404.8 38.5L405.1 38.5L412.8 39.3L413.1 39.3L413.4 39.3L413.7 39.3L413.9 39.2L414.2 39.1L414.5 39.0L414.7 38.9L415.0 38.7L415.2 38.5L415.4 38.3L417.9 35.4L418.1 35.1L418.2 34.9L418.3 34.6L418.4 34.4L418.5 34.1L418.6 33.8L418.6 33.5L418.6 33.2L418.6 32.9L418.5 32.7L418.4 32.4L418.3 32.1L418.2 31.9L418.0 31.6L417.8 31.4L417.6 31.2L417.4 31.0L417.1 30.8L416.9 30.7L416.6 30.6L416.4 30.5L416.1 30.5L415.8 30.4L415.5 30.4L415.2 30.4L414.5 30.5L414.4 30.6L412.6 30.8L412.5 30.9L410.7 31.2L410.6 31.2L408.8 31.6L408.8 31.6L407.0 32.0L406.9 32.1L405.1 32.5L405.0 32.5Z" fill="url(#cellg)"/>
<path d="M433.9 30.1L433.6 30.1L433.3 30.1L433.0 30.1L432.8 30.2L432.5 30.3L432.2 30.4L432.0 30.6L431.7 30.8L431.5 30.9L431.3 31.2L431.1 31.4L431.0 31.6L430.8 31.9L430.7 32.2L430.7 32.5L430.6 32.7L430.6 33.0L430.6 33.3L430.6 33.6L430.7 33.9L430.8 34.2L430.9 34.5L431.1 34.7L431.2 35.0L438.0 43.5L438.2 43.8L438.4 44.0L438.6 44.1L438.9 44.3L439.1 44.4L439.4 44.5L439.7 44.6L440.0 44.7L440.3 44.7L440.6 44.7L440.9 44.6L441.2 44.5L441.5 44.4L441.8 44.3L451.1 39.2L451.3 39.0L451.6 38.9L451.8 38.7L452.0 38.4L452.1 38.2L452.3 38.0L452.4 37.7L452.5 37.4L452.6 37.2L452.6 36.9L452.6 36.6L452.6 36.3L452.6 36.0L452.5 35.7L452.4 35.5L452.3 35.2L452.2 34.9L452.0 34.7L451.8 34.5L451.6 34.3L451.4 34.1L451.1 34.0L450.9 33.8L450.6 33.7L450.4 33.7L450.4 33.6L448.6 33.1L448.5 33.1L446.8 32.5L446.7 32.5L444.9 32.1L444.8 32.0L443.0 31.6L443.0 31.6L441.2 31.2L441.1 31.2L439.3 30.9L439.2 30.8L437.4 30.6L437.3 30.5L435.5 30.3L435.4 30.3Z" fill="url(#cellg)"/>
<path d="M463.7 39.5L463.4 39.3L463.2 39.2L462.9 39.2L462.6 39.1L462.3 39.1L462.0 39.1L461.7 39.1L461.4 39.2L461.1 39.3L460.9 39.4L460.6 39.6L460.4 39.7L460.2 39.9L460.0 40.1L459.8 40.4L459.6 40.6L459.5 40.9L459.4 41.2L459.3 41.4L459.3 41.7L459.2 42.0L459.3 42.3L459.3 42.6L459.4 42.9L459.5 43.2L464.4 55.9L464.5 56.1L464.7 56.4L464.9 56.7L465.1 56.9L465.3 57.1L465.5 57.3L465.8 57.4L466.1 57.6L466.3 57.7L466.6 57.7L466.9 57.8L467.2 57.8L474.7 57.7L475.0 57.7L475.3 57.6L475.6 57.6L475.9 57.4L476.2 57.3L476.4 57.2L476.6 57.0L476.9 56.8L477.1 56.6L477.2 56.3L478.9 53.8L479.0 53.5L479.1 53.2L479.2 52.9L479.3 52.6L479.3 52.3L479.3 52.0L479.3 51.7L479.2 51.4L479.1 51.1L479.0 50.9L478.9 50.6L478.7 50.3L478.5 50.1L478.3 49.9L476.9 48.7L476.9 48.6L475.5 47.5L475.4 47.4L474.0 46.3L473.9 46.2L472.5 45.1L472.4 45.0L470.9 44.0L470.8 43.9L469.3 42.9L469.3 42.8L467.7 41.8L467.7 41.8L466.1 40.8L466.0 40.8L464.4 39.9L464.4 39.8Z" fill="url(#cellg)"/>
<path d="M484.6 56.3L484.4 56.1L484.2 55.9L483.9 55.7L483.7 55.6L483.4 55.5L483.1 55.4L482.9 55.3L482.6 55.3L482.3 55.3L482.0 55.3L481.7 55.4L481.4 55.4L481.1 55.6L480.9 55.7L480.6 55.8L480.4 56.0L480.2 56.2L480.0 56.4L479.8 56.7L479.3 57.5L479.2 57.7L479.1 58.0L479.0 58.2L478.9 58.5L478.9 58.8L478.9 59.1L478.9 59.4L478.9 59.7L479.0 59.9L479.1 60.2L479.2 60.5L484.8 71.2L485.0 71.5L485.2 71.7L485.4 71.9L485.6 72.1L485.8 72.3L486.1 72.5L486.3 72.6L486.6 72.7L486.9 72.8L487.2 72.8L487.5 72.8L487.7 72.8L488.0 72.8L488.3 72.7L488.6 72.6L488.9 72.5L491.3 71.2L491.6 71.1L491.8 70.9L492.0 70.7L492.2 70.5L492.4 70.3L492.5 70.1L492.7 69.8L492.8 69.5L492.9 69.2L492.9 69.0L492.9 68.7L492.9 68.4L492.9 68.1L492.8 67.8L492.7 67.5L492.6 67.3L492.5 67.0L491.9 66.0L491.9 66.0L490.9 64.4L490.8 64.4L489.8 62.9L489.7 62.8L488.7 61.3L488.6 61.2L487.5 59.8L487.4 59.7L486.3 58.3L486.2 58.2L485.1 56.8L485.0 56.8Z" fill="url(#cellg)"/>
<path d="M496.6 74.7L496.5 74.5L496.3 74.2L496.1 74.0L495.9 73.8L495.7 73.6L495.4 73.4L495.2 73.3L494.9 73.1L494.6 73.1L494.3 73.0L494.0 73.0L493.7 73.0L493.4 73.0L493.1 73.1L492.8 73.2L492.6 73.3L488.0 75.6L487.8 75.8L487.5 75.9L487.3 76.1L487.1 76.3L486.9 76.6L486.8 76.8L486.6 77.1L486.5 77.4L486.5 77.6L485.6 81.3L485.6 81.6L485.6 81.9L485.6 82.2L485.6 82.5L485.7 82.8L485.8 83.0L485.9 83.3L486.1 83.6L486.3 83.8L486.5 84.1L486.7 84.3L497.0 92.5L497.3 92.7L497.5 92.8L497.8 92.9L498.1 93.0L498.4 93.1L498.7 93.1L498.9 93.1L499.2 93.1L499.5 93.1L499.8 93.0L500.1 92.9L500.4 92.8L500.6 92.6L500.9 92.4L501.1 92.2L501.3 92.0L501.4 91.7L501.6 91.5L501.7 91.2L501.8 90.9L501.9 90.6L501.9 90.3L501.9 90.0L501.9 89.7L501.8 89.5L501.7 88.9L501.6 88.8L501.2 87.0L501.2 86.9L500.6 85.2L500.6 85.1L500.1 83.3L500.0 83.3L499.4 81.5L499.4 81.5L498.8 79.7L498.8 79.7L498.1 77.9L498.0 77.9L497.3 76.2L497.3 76.1Z" fill="url(#cellg)"/>
</g>
<path d="M484.1 144.8L497.4 129.0L492.4 114.3L470.8 115.3L470.7 115.6L470.5 116.7L470.3 117.8L470.0 118.9L469.8 119.9L469.4 121.0L469.1 122.1L468.7 123.1L468.4 124.2L467.9 125.2L467.5 126.2L467.0 127.3L466.5 128.3L466.0 129.2L465.5 130.2L464.9 131.2L464.4 132.0L484.1 144.8M464.7 167.6L485.9 150.1L484.1 144.8L464.4 132.0L464.3 132.1L463.7 133.1L463.1 134.0L462.4 134.9L461.8 135.8L461.1 136.7L460.4 137.5L459.6 138.4L458.9 139.2L458.1 140.0L457.3 140.8L456.5 141.5L455.6 142.3L454.8 143.0L453.9 143.7L453.0 144.3L452.1 145.0L451.7 145.3L459.5 166.1L464.7 167.6M438.8 179.0L441.0 180.4L459.5 166.1L451.7 145.3L451.2 145.6L450.2 146.2L449.3 146.8L448.3 147.4L447.3 147.9L446.4 148.4L445.4 148.9L444.3 149.4L443.3 149.8L442.3 150.3L441.2 150.6L440.2 151.0L439.1 151.3L438.0 151.7L437.0 151.9L435.9 152.2L434.8 152.4L433.7 152.6L432.6 152.8L431.5 153.0L430.4 153.1L429.2 153.2L428.1 153.2L427.5 153.3L438.8 179.0M407.3 170.0L410.7 181.7L438.8 179.0L427.5 153.3L427.0 153.3L425.9 153.3L424.8 153.3L423.7 153.2L422.6 153.2L421.4 153.1L420.3 153.0L419.2 152.8L418.1 152.6L417.0 152.4L415.9 152.2L414.8 151.9L413.8 151.7L413.1 151.5L407.3 170.0M383.5 156.9L386.7 170.6L407.3 170.0L413.1 151.5L412.7 151.3L411.6 151.0L410.6 150.6L409.5 150.3L408.5 149.8L407.5 149.4L406.4 148.9L405.4 148.4L404.5 147.9L403.5 147.4L402.5 146.8L401.6 146.2L400.6 145.6L399.7 145.0L398.8 144.3L398.2 143.9L383.5 156.9M369.8 135.0L370.1 154.6L383.5 156.9L398.2 143.9L397.9 143.7L397.0 143.0L396.2 142.3L395.3 141.5L394.5 140.8L393.7 140.0L392.9 139.2L392.2 138.4L391.4 137.5L390.7 136.7L390.0 135.8L389.4 134.9L388.7 134.0L388.1 133.1L387.5 132.1L386.9 131.2L386.3 130.2L385.8 129.2L385.3 128.3L384.8 127.4L369.8 135.0M358.4 105.6L355.7 131.2L369.8 135.0L384.8 127.4L384.8 127.3L384.3 126.2L383.9 125.2L383.4 124.2L383.1 123.1L382.7 122.1L382.4 121.0L382.0 119.9L381.8 118.9L381.5 117.8L381.3 116.7L381.1 115.6L380.9 114.5L380.7 113.4L380.6 112.3L380.5 111.1L380.5 110.0L380.4 108.9L380.4 107.9L360.0 104.5L358.4 105.6M366.9 77.4L358.9 80.1L360.0 104.5L380.4 107.9L380.4 107.8L380.4 106.7L380.5 105.6L380.5 104.5L380.6 103.3L380.7 102.2L380.9 101.1L381.1 100.0L381.3 98.9L381.5 97.8L381.8 96.7L382.0 95.7L382.4 94.6L382.7 93.5L383.1 92.5L383.4 91.4L383.9 90.4L384.3 89.4L384.8 88.3L385.3 87.3L385.8 86.4L386.2 85.6L366.9 77.4M390.5 56.7L377.1 54.0L366.9 77.4L386.2 85.6L386.3 85.4L386.9 84.4L387.5 83.5L388.1 82.5L388.7 81.6L389.4 80.7L390.0 79.8L390.7 78.9L391.4 78.1L392.2 77.2L392.9 76.4L393.7 75.6L394.5 74.8L395.3 74.1L396.2 73.3L397.0 72.6L397.9 71.9L398.8 71.3L399.7 70.6L400.6 70.0L401.4 69.5L390.5 56.7M414.8 40.7L399.1 39.2L390.5 56.7L401.4 69.5L401.6 69.4L402.5 68.8L403.5 68.2L404.5 67.7L405.4 67.2L406.4 66.7L407.5 66.2L408.5 65.8L409.5 65.3L410.6 65.0L411.6 64.6L412.7 64.3L413.8 63.9L414.8 63.7L415.9 63.4L417.0 63.2L418.1 63.0L418.7 62.9L414.8 40.7M439.2 47.1L425.0 29.0L414.8 40.7L418.7 62.9L419.2 62.8L420.3 62.6L421.4 62.5L422.6 62.4L423.7 62.4L424.8 62.3L425.9 62.3L427.0 62.3L428.1 62.4L429.2 62.4L430.4 62.5L431.5 62.6L432.6 62.8L433.7 63.0L434.8 63.2L434.9 63.2L439.2 47.1M464.4 59.0L456.1 37.8L439.2 47.1L434.9 63.2L435.9 63.4L437.0 63.7L438.0 63.9L439.1 64.3L440.2 64.6L441.2 65.0L442.3 65.3L443.3 65.8L444.3 66.2L445.4 66.7L446.4 67.2L447.3 67.7L448.3 68.2L449.3 68.8L450.2 69.4L451.2 70.0L452.0 70.5L464.4 59.0M483.9 83.6L485.7 75.5L477.0 58.9L464.4 59.0L452.0 70.5L452.1 70.6L453.0 71.3L453.9 71.9L454.8 72.6L455.6 73.3L456.5 74.1L457.3 74.8L458.1 75.6L458.9 76.4L459.6 77.2L460.4 78.1L461.1 78.9L461.8 79.8L462.4 80.7L463.1 81.6L463.7 82.5L464.3 83.5L464.9 84.4L465.5 85.4L466.0 86.4L466.5 87.3L467.0 88.3L467.5 89.4L467.9 90.4L468.1 90.9L483.9 83.6M492.4 114.3L504.0 99.6L483.9 83.6L468.1 90.9L468.4 91.4L468.7 92.5L469.1 93.5L469.4 94.6L469.8 95.7L470.0 96.7L470.3 97.8L470.5 98.9L470.7 100.0L470.9 101.1L471.1 102.2L471.2 103.3L471.3 104.5L471.3 105.6L471.4 106.7L471.4 107.8L471.4 108.9L471.3 110.0L471.3 111.1L471.2 112.3L471.1 113.4L470.9 114.5L470.8 115.3L492.4 114.3M504.0 99.6L492.4 114.3L497.4 129.0L502.0 130.1L502.3 129.0L502.8 127.1L503.3 125.2L503.7 123.3L504.0 121.4L504.3 119.4L504.6 117.5L504.8 115.6L505.0 113.6L505.1 111.7L505.2 109.7L505.2 107.8L505.2 105.9L505.1 103.9L505.0 102.0L504.8 100.0L504.8 99.5L504.0 99.6M497.4 129.0L484.1 144.8L485.9 150.1L490.5 153.8L490.7 153.5L491.8 151.9L492.9 150.2L493.9 148.6L494.9 146.9L495.8 145.2L496.7 143.5L497.6 141.7L498.4 139.9L499.2 138.1L499.9 136.3L500.6 134.5L501.2 132.7L501.8 130.8L502.0 130.1L497.4 129.0M469.6 174.0L470.0 173.7L471.6 172.6L473.1 171.5L474.7 170.3L476.2 169.1L477.7 167.8L479.2 166.6L480.6 165.2L482.0 163.9L483.3 162.5L484.7 161.1L485.9 159.6L487.2 158.1L488.4 156.6L489.6 155.0L490.5 153.8L485.9 150.1L464.7 167.6L469.6 174.0M442.0 185.4L443.3 185.2L445.2 184.7L447.1 184.2L448.9 183.7L450.8 183.1L452.6 182.5L454.4 181.8L456.2 181.1L458.0 180.3L459.8 179.5L461.6 178.6L463.3 177.7L465.0 176.8L466.7 175.8L468.3 174.8L469.6 174.0L464.7 167.6L459.5 166.1L441.0 180.4L442.0 185.4M410.7 181.7L409.3 185.3L410.4 185.6L412.3 185.9L414.3 186.2L416.2 186.5L418.1 186.7L420.1 186.9L422.0 187.0L424.0 187.1L425.9 187.1L427.8 187.1L429.8 187.0L431.7 186.9L433.7 186.7L435.6 186.5L437.5 186.2L439.5 185.9L441.4 185.6L442.0 185.4L441.0 180.4L438.8 179.0L410.7 181.7M383.7 174.9L385.1 175.8L386.8 176.8L388.5 177.7L390.2 178.6L392.0 179.5L393.8 180.3L395.6 181.1L397.4 181.8L399.2 182.5L401.0 183.1L402.9 183.7L404.7 184.2L406.6 184.7L408.5 185.2L409.3 185.3L410.7 181.7L407.3 170.0L386.7 170.6L383.7 174.9M386.7 170.6L383.5 156.9L370.1 154.6L365.0 158.6L365.9 159.6L367.1 161.1L368.5 162.5L369.8 163.9L371.2 165.2L372.6 166.6L374.1 167.8L375.6 169.1L377.1 170.3L378.7 171.5L380.2 172.6L381.8 173.7L383.5 174.8L383.7 174.9L386.7 170.6M370.1 154.6L369.8 135.0L355.7 131.2L350.9 133.5L351.2 134.5L351.9 136.3L352.6 138.1L353.4 139.9L354.2 141.7L355.1 143.5L356.0 145.2L356.9 146.9L357.9 148.6L358.9 150.2L360.0 151.9L361.1 153.5L362.2 155.0L363.4 156.6L364.6 158.1L365.0 158.6L370.1 154.6M358.4 105.6L346.6 105.5L346.6 105.9L346.6 107.8L346.6 109.7L346.7 111.7L346.8 113.6L347.0 115.6L347.2 117.5L347.5 119.4L347.8 121.4L348.1 123.3L348.5 125.2L349.0 127.1L349.5 129.0L350.0 130.8L350.6 132.7L350.9 133.5L355.7 131.2L358.4 105.6M352.8 77.0L352.6 77.5L351.9 79.3L351.2 81.1L350.6 82.9L350.0 84.8L349.5 86.6L349.0 88.5L348.5 90.4L348.1 92.3L347.8 94.2L347.5 96.2L347.2 98.1L347.0 100.0L346.8 102.0L346.7 103.9L346.6 105.5L358.4 105.6L360.0 104.5L358.9 80.1L352.8 77.0M377.1 54.0L372.4 49.2L371.2 50.4L369.8 51.7L368.5 53.1L367.1 54.5L365.9 56.0L364.6 57.5L363.4 59.0L362.2 60.6L361.1 62.1L360.0 63.7L358.9 65.4L357.9 67.0L356.9 68.7L356.0 70.4L355.1 72.1L354.2 73.9L353.4 75.7L352.8 77.0L358.9 80.1L366.9 77.4L377.1 54.0M377.1 54.0L390.5 56.7L399.1 39.2L397.0 33.9L395.6 34.5L393.8 35.3L392.0 36.1L390.2 37.0L388.5 37.9L386.8 38.8L385.1 39.8L383.5 40.8L381.8 41.9L380.2 43.0L378.7 44.1L377.1 45.3L375.6 46.5L374.1 47.8L372.6 49.0L372.4 49.2L377.1 54.0M399.1 39.2L414.8 40.7L425.0 29.0L425.0 28.5L424.0 28.5L422.0 28.6L420.1 28.7L418.1 28.9L416.2 29.1L414.3 29.4L412.3 29.7L410.4 30.0L408.5 30.4L406.6 30.9L404.7 31.4L402.9 31.9L401.0 32.5L399.2 33.1L397.4 33.8L397.0 33.9L399.1 39.2M425.0 29.0L439.2 47.1L456.1 37.8L457.3 35.0L456.2 34.5L454.4 33.8L452.6 33.1L450.8 32.5L448.9 31.9L447.1 31.4L445.2 30.9L443.3 30.4L441.4 30.0L439.5 29.7L437.5 29.4L435.6 29.1L433.7 28.9L431.7 28.7L429.8 28.6L427.8 28.5L425.9 28.5L425.0 28.5L425.0 29.0M456.1 37.8L464.4 59.0L477.0 58.9L481.7 51.5L480.6 50.4L479.2 49.0L477.7 47.8L476.2 46.5L474.7 45.3L473.1 44.1L471.6 43.0L470.0 41.9L468.3 40.8L466.7 39.8L465.0 38.8L463.3 37.9L461.6 37.0L459.8 36.1L458.0 35.3L457.3 35.0L456.1 37.8M495.8 70.3L494.9 68.7L493.9 67.0L492.9 65.4L491.8 63.7L490.7 62.1L489.6 60.6L488.4 59.0L487.2 57.5L485.9 56.0L484.7 54.5L483.3 53.1L482.0 51.7L481.7 51.5L477.0 58.9L485.7 75.5L495.8 70.3M504.0 99.6L504.8 99.5L504.6 98.1L504.3 96.2L504.0 94.2L503.7 92.3L503.3 90.4L502.8 88.5L502.3 86.6L501.8 84.8L501.2 82.9L500.6 81.1L499.9 79.3L499.2 77.5L498.4 75.7L497.6 73.9L496.7 72.1L495.8 70.4L495.8 70.3L485.7 75.5L483.9 83.6L504.0 99.6" stroke="#101010" stroke-width="0.9" fill="none" opacity="0.9"/>
<circle cx="425.9" cy="107.8" r="45.5" fill="#2a2a2a" filter="url(#bl1)"/>
<circle cx="425.9" cy="107.8" r="44" fill="#a8a8a8"/>
<rect x="378.9" y="60.8" width="94" height="94" filter="url(#nz)" opacity="0.28" clip-path="url(#d1)"/>
<path d="M430.0 134.8L429.3 133.9L426.0 133.8L425.0 137.1L427.5 139.1L430.0 134.8M442.9 121.8L442.2 125.0L445.5 130.3L454.3 131.7L456.2 128.4L451.8 122.2L448.5 120.5L444.9 121.0L442.9 121.8M443.7 75.5L446.4 68.9L445.7 68.5L444.7 68.0L443.7 67.6L442.7 67.1L441.7 66.7L440.7 66.4L439.7 66.0L438.7 65.7L437.6 65.4L436.6 65.1L435.5 64.9L434.5 64.6L433.4 64.4L432.4 64.3L431.6 64.2L432.5 67.5L443.7 75.5M386.1 96.8L384.2 94.9L383.7 95.2L383.5 96.1L383.2 97.1L383.0 98.2L382.7 99.2L382.5 100.3L382.4 101.2L383.2 101.2L386.8 101.0L386.1 96.8M446.4 83.4L446.0 84.8L446.5 85.9L448.5 86.8L450.2 84.3L446.4 83.4M425.2 89.5L424.7 91.0L426.1 93.6L427.4 92.8L428.1 89.0L428.0 88.9L425.2 89.5M442.9 121.8L444.9 121.0L447.4 110.3L440.6 108.5L437.8 116.3L442.9 121.8M433.9 140.3L428.0 140.0L425.9 143.7L425.8 144.1L432.8 145.1L433.9 140.3M440.5 94.3L440.6 91.3L437.2 88.6L436.3 88.0L434.1 91.5L440.5 94.3M422.6 151.7L422.7 151.7L423.7 151.7L424.8 151.8L425.9 151.8L427.0 151.8L427.4 151.8L426.6 150.1L425.3 149.1L422.6 151.7M395.7 139.8L395.2 132.2L388.8 130.4L388.3 130.7L388.7 131.3L389.3 132.2L389.9 133.1L390.6 134.0L391.2 134.9L391.9 135.7L392.6 136.5L393.3 137.3L394.0 138.1L394.8 138.9L395.6 139.7L395.7 139.8L395.7 139.8M384.2 94.9L384.0 94.4L383.8 95.0L383.7 95.2L384.2 94.9M413.8 146.7L409.5 148.6L410.1 148.9L411.1 149.2L412.1 149.6L413.1 149.9L414.2 150.2L415.2 150.5L416.3 150.7L416.7 150.8L416.8 149.7L413.8 146.7M414.2 139.3L414.4 139.4L418.1 137.9L418.5 135.3L418.3 132.8L413.9 129.9L411.7 134.4L414.2 139.3M456.4 79.4L456.2 89.2L457.2 90.4L464.2 86.1L464.2 86.1L463.6 85.2L463.1 84.3L462.5 83.4L461.9 82.5L461.2 81.6L460.6 80.7L459.9 79.9L459.2 79.1L458.5 78.3L458.1 77.8L456.4 79.4M433.0 146.4L426.6 150.1L427.4 151.8L428.1 151.7L429.1 151.7L430.2 151.6L431.3 151.5L432.4 151.3L433.4 151.2L434.5 151.0L435.5 150.7L436.6 150.5L436.9 150.4L433.0 146.4M424.8 95.7L425.3 96.3L432.3 96.1L432.4 94.2L427.4 92.8L426.1 93.6L424.8 95.7M405.8 130.6L401.5 130.9L400.3 132.2L402.1 138.0L403.8 139.1L405.7 138.0L407.3 133.4L405.8 130.6M396.9 114.4L392.9 117.8L396.7 122.1L402.5 114.7L399.5 114.2L396.9 114.4M432.5 110.9L425.6 111.2L423.9 115.0L425.4 118.4L427.8 119.1L429.1 119.0L437.7 116.3L432.5 110.9M388.9 116.8L387.5 118.3L389.7 127.7L396.8 122.5L396.7 122.1L392.9 117.8L388.9 116.8M457.2 90.4L457.2 91.2L466.5 95.4L467.8 94.5L467.7 94.0L467.3 93.0L467.0 92.0L466.6 91.0L466.1 90.0L465.7 89.0L465.2 88.0L464.7 87.1L464.2 86.1L457.2 90.4M413.8 146.7L413.8 141.0L404.1 146.0L404.2 146.1L405.2 146.6L406.1 147.1L407.1 147.6L408.1 148.0L409.1 148.5L409.5 148.6L413.8 146.7M430.6 88.8L434.0 91.5L434.1 91.5L436.3 88.0L436.6 87.0L434.7 83.4L432.7 83.6L431.1 85.7L430.6 88.8M407.8 109.3L412.1 110.1L413.9 105.8L411.8 100.0L410.5 101.4L407.2 107.3L407.8 109.3M403.0 123.5L410.4 124.5L410.6 124.4L403.0 115.5L403.0 123.5M444.7 89.5L444.8 95.5L446.6 96.8L446.6 96.8L449.1 89.3L445.3 89.0L444.7 89.5M430.1 127.2L433.7 124.9L429.1 119.0L427.8 119.1L430.1 127.2M418.3 132.8L419.9 130.1L421.5 125.0L421.2 124.0L415.0 123.7L411.6 124.3L413.9 129.9L418.3 132.8M465.2 115.9L467.6 121.7L467.7 121.6L468.0 120.6L468.3 119.5L468.6 118.5L468.8 117.4L469.1 116.4L469.3 115.3L469.4 114.3L469.6 113.2L469.7 112.1L469.7 112.0L465.2 115.9M421.9 78.1L421.8 77.8L412.9 76.0L412.3 82.3L420.6 83.9L422.1 82.2L421.9 78.1M406.0 77.6L408.3 73.5L402.7 72.1L401.2 73.3L398.9 77.4L406.0 77.6M394.2 77.3L394.0 77.5L393.3 78.3L392.6 79.1L391.9 79.9L391.2 80.7L390.6 81.6L389.9 82.5L389.3 83.4L389.1 83.7L395.1 81.4L396.2 79.2L394.2 77.3M453.3 113.9L458.8 115.9L461.0 114.1L461.5 111.7L461.1 110.2L454.3 107.8L452.4 111.2L453.3 113.9M451.7 143.5L452.1 143.1L453.0 142.5L453.8 141.8L454.6 141.1L455.4 140.4L456.2 139.7L457.0 138.9L457.5 138.4L455.0 134.5L447.7 138.3L451.7 143.5M439.9 105.7L445.2 101.4L446.1 99.3L446.6 96.8L444.8 95.5L440.6 94.4L434.6 101.9L435.3 103.0L439.9 105.7M436.6 87.0L441.1 86.2L440.8 79.1L437.6 78.8L434.7 83.4L436.6 87.0M428.1 89.0L430.6 88.8L431.1 85.7L425.8 84.3L428.0 88.9L428.1 89.0M397.6 88.4L397.2 87.8L394.7 85.5L390.0 89.5L391.0 91.5L393.9 93.6L395.2 92.9L397.6 88.4M440.6 108.5L447.4 110.3L447.5 110.3L448.5 104.9L445.2 101.4L439.9 105.7L440.6 108.5M415.2 112.3L416.8 112.4L419.8 103.5L419.7 103.3L413.9 105.8L412.1 110.1L415.2 112.3M425.8 109.2L425.6 111.2L432.5 110.9L432.8 106.2L425.8 109.2M425.3 149.1L424.2 147.1L422.1 146.7L420.2 147.3L416.8 149.7L416.7 150.8L417.3 151.0L418.4 151.2L419.4 151.3L420.5 151.5L421.6 151.6L422.6 151.7L425.3 149.1M449.0 82.1L446.1 82.1L446.4 83.4L450.2 84.3L450.8 84.1L449.0 82.1M409.7 72.9L408.3 73.5L406.0 77.6L406.1 80.7L411.0 83.4L412.3 82.3L412.9 76.0L412.5 75.5L409.7 72.9M412.0 67.0L415.1 65.2L414.2 65.4L413.1 65.7L412.1 66.0L411.8 66.1L412.0 67.0M447.5 110.3L447.4 110.3L444.9 121.0L448.5 120.5L453.3 113.9L452.4 111.2L447.5 110.3M414.4 139.4L414.1 140.3L420.2 147.3L422.1 146.7L418.2 137.9L418.1 137.9L414.4 139.4M411.1 119.0L415.2 112.3L412.1 110.1L407.8 109.3L404.8 112.9L411.1 119.0M465.2 115.9L469.7 112.0L469.8 111.0L469.8 110.9L468.8 110.3L461.5 111.7L461.0 114.1L465.2 115.9M433.5 101.1L434.6 101.9L440.6 94.4L440.5 94.3L434.1 91.5L434.0 91.5L432.4 94.2L432.3 96.1L433.5 101.1M412.6 98.1L413.3 97.6L406.8 91.9L405.5 97.2L412.6 98.1M440.6 108.5L439.9 105.7L435.3 103.0L432.8 106.2L432.5 110.9L437.7 116.3L437.8 116.3L440.6 108.5M430.0 81.4L430.7 77.2L421.9 78.1L422.1 82.2L424.7 83.0L430.0 81.4M431.1 129.7L435.8 130.5L439.0 126.9L433.7 124.9L430.1 127.2L430.0 128.7L431.1 129.7M454.3 105.8L454.3 105.8L452.1 102.8L446.1 99.3L445.2 101.4L448.5 104.9L454.3 105.8M425.0 106.8L419.8 103.5L416.8 112.4L417.4 112.8L423.9 115.0L425.6 111.2L425.8 109.2L425.0 106.8M427.1 103.6L425.0 106.8L425.8 109.2L432.8 106.2L435.3 103.0L434.6 101.9L433.5 101.1L432.5 101.2L427.9 102.8L427.1 103.6M424.3 132.6L425.3 132.5L425.8 129.1L421.5 125.0L419.9 130.1L424.3 132.6M400.9 88.9L403.1 85.9L402.3 83.5L401.3 82.9L397.2 87.8L397.6 88.4L400.9 88.9M425.4 118.4L421.2 124.0L421.5 125.0L425.8 129.1L430.0 128.7L430.1 127.2L427.8 119.1L425.4 118.4M382.1 108.2L383.2 101.2L382.4 101.2L382.4 101.3L382.2 102.4L382.1 103.5L382.0 104.6L382.0 105.6L381.9 106.7L381.9 107.8L381.9 108.2L382.1 108.2M465.2 115.9L461.0 114.1L458.8 115.9L459.0 118.9L462.0 123.8L467.3 122.7L467.3 122.6L467.6 121.7L465.2 115.9M382.6 112.7L382.5 108.2L382.1 108.2L381.9 108.2L381.9 108.9L382.0 110.0L382.0 111.0L382.1 112.1L382.2 112.8L382.6 112.7M450.8 84.0L452.8 79.7L452.3 79.5L449.0 82.1L450.8 84.1L450.8 84.0M434.4 139.9L442.8 145.4L444.2 137.5L443.8 136.8L436.0 136.3L435.2 137.2L434.4 139.9M454.3 105.7L456.0 96.3L455.4 95.2L452.6 96.0L452.1 102.8L454.3 105.8L454.3 105.7M383.9 112.5L388.8 116.4L390.1 110.2L389.9 105.8L384.3 108.2L383.9 112.5M396.6 108.1L395.9 112.7L396.9 114.4L399.5 114.2L396.6 108.1M404.5 97.6L405.5 97.2L406.8 91.9L406.7 91.5L401.5 92.8L402.2 95.8L404.5 97.6M433.9 140.3L434.4 139.9L435.2 137.2L430.0 134.8L427.5 139.1L428.0 140.0L433.9 140.3M466.5 95.4L464.2 102.6L464.5 102.8L469.6 102.6L469.6 102.4L469.4 101.3L469.3 100.3L469.1 99.2L468.8 98.2L468.6 97.1L468.3 96.1L468.0 95.0L467.8 94.5L466.5 95.4M410.6 124.4L410.4 124.5L410.1 125.0L410.4 133.7L411.7 134.4L413.9 129.9L411.6 124.3L411.2 124.2L410.6 124.4M449.1 89.3L449.7 88.7L448.5 86.8L446.5 85.9L445.3 89.0L449.1 89.3M416.7 93.0L410.0 87.6L408.0 88.3L407.3 89.8L406.7 91.5L406.8 91.9L413.3 97.6L416.3 96.1L416.8 95.2L416.7 93.0M431.1 85.7L432.7 83.6L430.0 81.4L424.7 83.0L425.8 84.3L431.1 85.7M425.8 84.3L424.7 83.0L422.1 82.2L420.6 83.9L420.2 85.9L425.2 89.5L428.0 88.9L425.8 84.3M390.0 89.5L394.7 85.5L395.1 81.4L389.1 83.7L388.7 84.3L388.2 85.2L387.6 86.1L387.1 87.1L386.8 87.7L390.0 89.5M440.6 91.3L440.5 94.3L440.6 94.4L444.8 95.5L444.7 89.5L441.8 87.6L440.8 90.0L440.6 91.3M393.9 93.6L394.3 99.2L397.3 98.8L399.4 97.3L397.9 93.1L395.2 92.9L393.9 93.6M450.8 72.7L449.8 78.1L452.3 79.5L452.8 79.7L456.4 79.4L458.1 77.8L457.8 77.5L457.0 76.7L456.2 75.9L455.4 75.2L455.4 75.2L450.8 72.7M410.5 101.4L403.6 100.9L403.0 102.1L403.0 103.8L407.2 107.3L410.5 101.4M425.7 97.5L432.5 101.2L433.5 101.1L432.3 96.1L425.3 96.3L425.7 97.5M425.8 129.1L425.3 132.5L426.0 133.8L429.3 133.9L431.1 129.7L430.0 128.7L425.8 129.1M395.9 112.7L390.1 110.2L388.8 116.4L388.9 116.8L392.9 117.8L396.9 114.4L395.9 112.7M396.4 106.2L391.3 103.9L390.7 104.1L389.9 105.8L390.1 110.2L395.9 112.7L396.6 108.1L396.4 106.2M407.3 133.4L405.7 138.0L414.2 139.3L411.7 134.4L410.4 133.7L407.3 133.4M415.0 123.7L421.2 124.0L425.4 118.4L423.9 115.0L417.4 112.8L415.0 123.7M389.7 127.7L388.8 130.4L395.2 132.2L395.2 132.2L398.2 123.6L396.8 122.5L389.7 127.7M446.6 96.8L446.1 99.3L452.1 102.8L452.6 96.0L446.6 96.8L446.6 96.8M410.1 125.0L405.8 130.6L407.3 133.4L410.4 133.7L410.1 125.0M445.5 130.3L443.8 136.8L444.2 137.5L447.7 138.3L455.0 134.5L454.3 131.7L445.5 130.3M406.1 80.7L402.3 83.5L403.1 85.9L408.0 88.3L410.0 87.6L411.0 83.4L406.1 80.7M406.1 80.7L406.0 77.6L398.9 77.4L396.5 79.2L401.3 82.9L402.3 83.5L406.1 80.7M423.9 101.2L427.1 103.6L427.9 102.8L426.5 101.0L423.9 101.2M464.2 102.6L466.5 95.4L457.2 91.2L455.4 95.2L456.0 96.3L463.4 102.7L463.5 102.8L464.2 102.6M384.2 94.9L386.1 96.8L391.0 91.5L390.0 89.5L386.8 87.7L386.6 88.0L386.1 89.0L385.7 90.0L385.2 91.0L384.8 92.0L384.5 93.0L384.1 94.0L384.0 94.4L384.2 94.9M452.6 96.0L455.4 95.2L457.2 91.2L457.2 90.4L456.2 89.2L454.8 88.6L449.7 88.7L449.1 89.3L446.6 96.8L452.6 96.0M413.8 141.0L414.1 140.3L414.4 139.4L414.2 139.3L405.7 138.0L403.8 139.1L404.1 146.0L404.1 146.0L413.8 141.0M461.1 110.2L461.5 111.7L468.8 110.3L464.5 102.8L464.2 102.6L463.5 102.8L461.1 110.2M442.2 125.0L439.0 126.9L435.8 130.5L436.0 136.3L443.8 136.8L445.5 130.3L442.2 125.0M450.8 84.0L454.8 88.6L456.2 89.2L456.4 79.4L452.8 79.7L450.8 84.0M403.8 139.1L402.1 138.0L395.7 139.8L395.7 139.8L396.4 140.4L397.2 141.1L398.0 141.8L398.8 142.5L399.7 143.1L400.6 143.8L401.5 144.4L402.4 145.0L403.3 145.5L404.1 146.0L403.8 139.1M456.0 96.3L454.3 105.7L463.4 102.7L456.0 96.3M407.6 67.8L407.1 68.0L406.1 68.5L405.2 69.0L404.2 69.5L403.3 70.1L402.4 70.6L402.3 70.7L402.7 72.1L408.3 73.5L409.7 72.9L410.2 71.2L407.6 67.8M420.2 147.3L414.1 140.3L413.8 141.0L413.8 146.7L416.8 149.7L420.2 147.3M397.9 93.1L401.4 92.8L401.2 90.2L400.9 88.9L397.6 88.4L395.2 92.9L397.9 93.1M387.5 118.3L388.9 116.8L388.8 116.4L383.9 112.5L382.6 112.7L382.2 112.8L382.2 113.2L382.4 114.3L382.5 115.3L382.7 116.4L383.0 117.4L383.2 118.5L383.4 119.2L387.5 118.3M388.8 130.4L389.7 127.7L387.5 118.3L383.4 119.2L383.5 119.5L383.8 120.6L384.1 121.6L384.5 122.6L384.8 123.6L385.2 124.6L385.7 125.6L386.1 126.6L386.6 127.6L387.1 128.5L387.6 129.5L388.2 130.4L388.3 130.7L388.8 130.4M423.4 101.0L423.9 101.2L426.5 101.0L425.5 98.6L423.4 101.0M401.2 90.2L407.3 89.8L408.0 88.3L403.1 85.9L400.9 88.9L401.2 90.2M449.0 82.1L452.3 79.5L449.8 78.1L444.6 78.7L446.1 82.1L449.0 82.1M401.5 92.8L401.4 92.8L397.9 93.1L399.4 97.3L402.2 95.8L401.5 92.8M402.5 114.7L396.7 122.1L396.8 122.5L398.2 123.6L400.5 124.5L403.0 123.5L403.0 115.5L402.7 114.7L402.5 114.7M416.3 96.1L413.3 97.6L412.6 98.1L411.8 100.0L413.9 105.8L419.7 103.3L419.5 102.2L416.3 96.1M400.5 124.5L398.2 123.6L395.2 132.2L400.3 132.2L401.5 130.9L400.5 124.5M419.5 102.2L419.7 103.3L419.8 103.5L425.0 106.8L427.1 103.6L423.9 101.2L423.4 101.0L419.5 102.2M433.4 74.4L437.6 78.8L440.8 79.1L443.3 78.0L443.7 75.5L432.5 67.5L433.4 74.4M455.0 134.5L457.5 138.4L457.8 138.1L458.5 137.3L459.2 136.5L459.9 135.7L460.6 134.9L461.2 134.0L461.9 133.1L462.5 132.2L463.1 131.3L463.4 130.9L459.9 126.8L456.2 128.4L454.3 131.7L455.0 134.5M399.4 97.3L397.3 98.8L403.0 102.1L403.6 100.9L404.5 97.6L402.2 95.8L399.4 97.3M427.5 139.1L425.0 137.1L420.5 138.2L425.9 143.7L428.0 140.0L427.5 139.1M441.1 86.2L441.3 86.3L446.0 84.8L446.4 83.4L446.1 82.1L444.6 78.7L443.3 78.0L440.8 79.1L441.1 86.2M461.1 110.2L463.5 102.8L463.4 102.7L454.3 105.7L454.3 105.8L454.3 105.8L454.3 107.8L461.1 110.2M425.7 97.5L425.3 96.3L424.8 95.7L416.8 95.2L416.3 96.1L419.5 102.2L423.4 101.0L425.5 98.6L425.7 97.5M464.5 102.8L468.8 110.3L469.8 110.9L469.8 110.0L469.9 108.9L469.9 107.8L469.9 106.7L469.8 105.6L469.8 104.6L469.7 103.5L469.6 102.6L464.5 102.8M384.3 108.2L389.9 105.8L390.7 104.1L386.8 101.0L383.2 101.2L382.1 108.2L382.5 108.2L384.3 108.2M397.2 87.8L401.3 82.9L396.5 79.2L396.2 79.2L395.1 81.4L394.7 85.5L397.2 87.8M417.4 69.0L418.5 71.5L422.3 74.8L430.8 64.1L430.2 64.0L429.1 63.9L428.1 63.9L427.0 63.8L425.9 63.8L424.8 63.8L423.7 63.9L422.7 63.9L421.6 64.0L420.5 64.1L419.9 64.2L417.4 69.0M403.0 115.5L410.6 124.4L411.2 124.2L411.1 119.0L404.8 112.9L403.9 113.4L402.7 114.7L403.0 115.5M401.5 92.8L406.7 91.5L407.3 89.8L401.2 90.2L401.4 92.8L401.5 92.8M420.2 85.9L420.6 83.9L412.3 82.3L411.0 83.4L410.0 87.6L416.7 93.0L417.4 92.0L420.2 85.9M435.2 137.2L436.0 136.3L435.8 130.5L431.1 129.7L429.3 133.9L430.0 134.8L435.2 137.2M382.6 112.7L383.9 112.5L384.3 108.2L382.5 108.2L382.6 112.7M425.8 144.1L424.2 147.1L425.3 149.1L426.6 150.1L433.0 146.4L432.8 145.1L425.8 144.1M441.8 87.6L444.7 89.5L445.3 89.0L446.5 85.9L446.0 84.8L441.3 86.3L441.8 87.6M442.8 145.4L434.4 139.9L433.9 140.3L432.8 145.1L433.0 146.4L436.9 150.4L437.6 150.2L438.7 149.9L439.7 149.6L440.7 149.2L441.7 148.9L442.7 148.5L443.5 148.1L442.8 145.4M391.0 91.5L386.1 96.8L386.8 101.0L390.7 104.1L391.3 103.9L394.3 99.2L393.9 93.6L391.0 91.5M424.7 91.0L417.4 92.0L416.7 93.0L416.8 95.2L424.8 95.7L426.1 93.6L424.7 91.0M454.3 107.8L454.3 105.8L448.5 104.9L447.5 110.3L452.4 111.2L454.3 107.8M450.8 72.7L455.4 75.2L454.6 74.5L453.8 73.8L453.0 73.1L452.1 72.5L451.2 71.8L450.3 71.2L450.0 71.0L450.8 72.7M433.4 74.4L432.5 67.5L431.6 64.2L431.3 64.1L430.8 64.1L422.3 74.8L421.8 77.8L421.9 78.1L430.7 77.2L433.4 74.4M411.2 124.2L411.6 124.3L415.0 123.7L417.4 112.8L416.8 112.4L415.2 112.3L411.1 119.0L411.2 124.2M418.5 71.5L417.4 69.0L411.0 70.3L410.2 71.2L409.7 72.9L412.5 75.5L418.5 71.5M443.7 75.5L443.3 78.0L444.6 78.7L449.8 78.1L450.8 72.7L450.0 71.0L449.4 70.6L448.5 70.1L447.6 69.5L446.6 69.0L446.4 68.9L443.7 75.5M395.2 132.2L395.2 132.2L395.7 139.8L402.1 138.0L400.3 132.2L395.2 132.2M420.2 85.9L417.4 92.0L424.7 91.0L425.2 89.5L420.2 85.9M440.6 91.3L440.8 90.0L437.2 88.6L440.6 91.3M425.9 143.7L420.5 138.2L418.2 137.9L422.1 146.7L424.2 147.1L425.8 144.1L425.9 143.7M427.4 92.8L432.4 94.2L434.0 91.5L430.6 88.8L428.1 89.0L427.4 92.8M418.3 132.8L418.5 135.3L424.3 132.6L419.9 130.1L418.3 132.8M436.3 88.0L437.2 88.6L440.8 90.0L441.8 87.6L441.3 86.3L441.1 86.2L436.6 87.0L436.3 88.0M459.9 126.8L463.4 130.9L463.6 130.4L464.2 129.5L464.7 128.5L465.2 127.6L465.7 126.6L466.1 125.6L466.6 124.6L467.0 123.6L467.3 122.7L462.0 123.8L459.9 126.8M437.7 116.3L429.1 119.0L433.7 124.9L439.0 126.9L442.2 125.0L442.9 121.8L437.8 116.3L437.7 116.3M412.0 67.0L411.8 66.1L411.1 66.4L410.1 66.7L409.1 67.1L408.1 67.6L407.6 67.8L410.2 71.2L411.0 70.3L412.0 67.0M432.7 83.6L434.7 83.4L437.6 78.8L433.4 74.4L430.7 77.2L430.0 81.4L432.7 83.6M404.5 97.6L403.6 100.9L410.5 101.4L411.8 100.0L412.6 98.1L405.5 97.2L404.5 97.6M412.0 67.0L411.0 70.3L417.4 69.0L419.9 64.2L419.4 64.3L418.4 64.4L417.3 64.6L416.3 64.9L415.2 65.1L415.1 65.2L412.0 67.0M426.5 101.0L427.9 102.8L432.5 101.2L425.7 97.5L425.5 98.6L426.5 101.0M450.2 84.3L448.5 86.8L449.7 88.7L454.8 88.6L450.8 84.0L450.8 84.1L450.2 84.3M404.8 112.9L407.8 109.3L407.2 107.3L403.0 103.8L397.6 106.2L403.9 113.4L404.8 112.9M412.9 76.0L421.8 77.8L422.3 74.8L418.5 71.5L412.5 75.5L412.9 76.0M444.2 137.5L442.8 145.4L443.5 148.1L443.7 148.0L444.7 147.6L445.7 147.1L446.6 146.6L447.6 146.1L448.5 145.5L449.4 145.0L450.3 144.4L451.2 143.8L451.7 143.5L447.7 138.3L444.2 137.5M459.9 126.8L462.0 123.8L459.0 118.9L451.8 122.2L456.2 128.4L459.9 126.8M418.5 135.3L418.1 137.9L418.2 137.9L420.5 138.2L425.0 137.1L426.0 133.8L425.3 132.5L424.3 132.6L418.5 135.3M401.2 73.3L402.7 72.1L402.3 70.7L401.5 71.2L400.6 71.8L399.7 72.5L401.2 73.3M402.5 114.7L402.7 114.7L403.9 113.4L397.6 106.2L396.4 106.2L396.6 108.1L399.5 114.2L402.5 114.7M403.0 103.8L403.0 102.1L397.3 98.8L394.3 99.2L391.3 103.9L396.4 106.2L397.6 106.2L403.0 103.8M448.5 120.5L451.8 122.2L459.0 118.9L458.8 115.9L453.3 113.9L448.5 120.5M396.2 79.2L396.5 79.2L398.9 77.4L401.2 73.3L399.7 72.5L399.7 72.5L398.8 73.1L398.0 73.8L397.2 74.5L396.4 75.2L395.6 75.9L394.8 76.7L394.2 77.3L396.2 79.2M410.4 124.5L403.0 123.5L400.5 124.5L401.5 130.9L405.8 130.6L410.1 125.0L410.4 124.5" stroke="#555" stroke-width="0.55" fill="none" opacity="0.5"/>
<circle cx="425.9" cy="107.8" r="79.8" fill="none" stroke="#0c0c0c" stroke-width="1.6"/>
</g>
<ellipse cx="424.2" cy="109" rx="41.2" ry="44.7" fill="none" stroke="#80cc4a" stroke-width="5" stroke-dasharray="15 4.25" stroke-dashoffset="9"/>
<path d="M352 110.6H376.5" stroke="#fff000" stroke-width="4"/><path d="M347 110.6L356.5 104.8V116.4Z M381.2 110.6L371.7 104.8V116.4Z" fill="#fff000"/>
<text x="357" y="99.6" style="font-family:'Liberation Serif',serif;font-size:32px;font-style:italic;fill:#fff000">w</text>
<path d="M425.7 108.2H491" stroke="#fff" stroke-width="4.6"/><path d="M504.6 108.2L489 101.5V114.9Z" fill="#fff"/>
<text x="466.5" y="96.3" style="font-family:'Liberation Serif',serif;font-size:29px;font-style:italic;fill:#fff">R</text>
<g clip-path="url(#c2)">
<rect x="871" y="28" width="168" height="157.3" fill="#d6d6d6"/>
<ellipse cx="955.2" cy="106.8" rx="83.8" ry="78.6" fill="url(#rim2)"/>
<g clip-path="url(#d2)">
<rect x="871" y="28" width="168" height="158" filter="url(#nz2)" opacity="0.12"/>
<g filter="url(#bl1)">
<ellipse cx="988.8" cy="57.1" rx="15.6" ry="10.9" fill="#a2a2a2"/>
<ellipse cx="1016.1" cy="92.2" rx="12.5" ry="11.7" fill="#a2a2a2"/>
<ellipse cx="1014.1" cy="139.0" rx="12.5" ry="11.7" fill="#a2a2a2"/>
<ellipse cx="965.3" cy="166.3" rx="14.8" ry="11.7" fill="#a2a2a2"/>
<ellipse cx="918.5" cy="152.7" rx="10.9" ry="9.4" fill="#a2a2a2"/>
<ellipse cx="906.8" cy="121.4" rx="12.5" ry="10.9" fill="#a2a2a2"/>
<ellipse cx="893.2" cy="74.6" rx="9.8" ry="8.6" fill="#a2a2a2"/>
<ellipse cx="881.5" cy="107.8" rx="7.0" ry="8.6" fill="#a2a2a2"/>
</g>
<rect x="871" y="28" width="168" height="158" filter="url(#nz)" opacity="0.14"/>
<path d="M986.5 159.7L982.4 155.3L976.6 153.6L972.6 149.2L971.4 143.3M902.8 102.7L907.8 106.0L913.4 108.1L918.6 111.0L924.4 109.5M964.9 72.5L969.7 76.1L969.9 82.0L967.6 87.6L962.4 90.5M945.0 97.7L942.2 103.0L943.4 108.9L939.9 113.8L937.7 119.4M992.9 162.1L993.0 168.1M914.2 92.9L909.4 96.6L909.0 102.6L904.9 107.0L903.4 112.8M961.6 73.6L966.8 76.6L970.2 81.5L971.0 87.5L970.8 93.5M951.9 81.1L946.5 78.6L940.5 79.1L935.8 75.4L934.5 69.6M917.5 130.9L912.3 133.8L906.7 131.6L900.8 130.5L896.1 134.3M1007.4 141.5L1013.4 141.2L1019.4 140.8M954.8 71.9L950.6 67.7L947.4 62.6L941.9 60.1L936.0 61.1M946.9 129.1L950.3 134.1L950.8 140.0L952.7 145.7L952.7 151.7M923.7 44.1L929.2 41.6L934.6 44.2L936.3 50.0L937.0 55.9M993.7 72.1L991.7 77.7L986.6 80.9L984.3 86.4L986.5 92.0M977.4 45.6L972.1 42.7L966.4 44.5L961.9 48.6L959.3 54.0M928.5 121.6L934.4 122.5L938.3 127.0L937.3 132.9L933.9 137.9M918.4 111.7L924.2 110.4L930.1 111.6L934.9 108.0L937.2 102.5M989.9 50.7L995.0 47.5M895.7 73.5L893.2 79.0L893.1 85.0L890.2 90.2L892.4 95.8M926.6 40.4L932.3 42.3L937.4 45.5L939.5 51.2L940.7 57.0M953.1 153.9L958.4 156.6L964.3 155.5L968.0 150.7L967.5 144.7M1004.0 114.6L1004.2 120.6L1002.7 126.4L1005.1 131.9L1007.2 137.6M931.8 153.2L936.1 157.5L941.9 158.7L947.9 158.6L953.5 160.8M940.1 101.9L942.6 96.4L947.3 92.8L953.3 92.0L956.5 86.9M937.0 111.0L934.2 105.7L933.5 99.8L930.3 94.7L929.0 88.8M949.3 120.8L946.3 125.9L940.6 127.8L935.9 131.6L931.3 135.4M886.6 84.8L890.7 89.1L894.9 93.5L896.8 99.2L893.9 104.4M932.4 164.3L926.6 162.7L921.4 165.7L915.4 165.3L911.7 160.6M929.6 139.7L934.0 135.7L934.3 129.7L930.4 125.1L929.6 119.2" stroke="#151515" stroke-width="0.9" fill="none" stroke-linejoin="round" opacity="0.85"/>
</g>
<path d="M904.9 43.4L908.9 50.0L913.7 56.6L918.5 62.9L923.3 67.3L926.8 73.9L932.2 78.5L935.0 82.6L939.6 87.6L941.9 92.2L945.1 92.8L947.4 92.9L949.7 94.1" stroke="#121212" stroke-width="3.0" fill="none" stroke-linejoin="round" stroke-linecap="round" />
<path d="M977.1 33.7L975.3 41.5L973.2 48.4L971.2 55.1L970.2 59.5L969.1 65.7L967.3 70.7L966.3 75.1L966.7 81.1L965.3 86.3L963.8 89.6L961.8 92.3L959.5 94.1" stroke="#121212" stroke-width="3.0" fill="none" stroke-linejoin="round" stroke-linecap="round" />
<path d="M1023.9 66.8L1015.9 71.3L1008.2 75.4L1000.5 78.5L994.6 81.1L986.8 84.5L981.0 88.3L979.2 90.8L976.0 93.1L973.1 96.1" stroke="#121212" stroke-width="3.0" fill="none" stroke-linejoin="round" stroke-linecap="round" />
<path d="M1037.5 113.6L1029.1 112.8L1020.4 112.5L1012.2 111.7L1003.2 112.0L994.3 111.7L984.9 110.5L982.2 111.8L978.7 110.7L975.1 111.7" stroke="#121212" stroke-width="3.0" fill="none" stroke-linejoin="round" stroke-linecap="round" />
<path d="M975.1 113.6L977.0 122.3L978.4 129.4L979.0 137.1L982.6 144.3L986.1 152.8L988.8 160.5L990.3 167.5L993.3 176.9L994.6 183.9" stroke="#121212" stroke-width="3.0" fill="none" stroke-linejoin="round" stroke-linecap="round" />
<path d="M955.6 129.2L953.5 136.3L952.8 141.6L951.7 148.8L948.7 155.7L947.2 160.9L943.9 168.3L942.8 172.6L941.7 178.4L940.0 183.9" stroke="#121212" stroke-width="3.0" fill="none" stroke-linejoin="round" stroke-linecap="round" />
<path d="M940.0 125.3L934.8 130.1L928.3 134.0L922.4 137.1L914.3 140.2L907.0 144.0L899.0 148.8L892.0 151.8L886.2 154.6L879.5 158.5" stroke="#121212" stroke-width="3.0" fill="none" stroke-linejoin="round" stroke-linecap="round" />
<path d="M924.4 103.9L915.1 104.2L907.1 103.9L899.0 102.7L891.3 101.6L882.0 100.9L873.7 100.0" stroke="#121212" stroke-width="3.0" fill="none" stroke-linejoin="round" stroke-linecap="round" />
<path d="M938.0 93.4L942.2 93.8L945.9 94.1L949.7 94.1L954.7 93.6L957.9 93.5L962.2 92.6" stroke="#121212" stroke-width="3.0" fill="none" stroke-linejoin="round" stroke-linecap="round" />
<path d="M904.9 43.4L908.9 50.0L913.7 56.6L918.5 62.9L923.3 67.3L926.8 73.9L932.2 78.5L935.0 82.6L939.6 87.6L941.9 92.2L945.1 92.8L947.4 92.9L949.7 94.1" stroke="#d8d8d8" stroke-width="1.3" fill="none" stroke-linejoin="round" stroke-linecap="round" />
<path d="M977.1 33.7L975.3 41.5L973.2 48.4L971.2 55.1L970.2 59.5L969.1 65.7L967.3 70.7L966.3 75.1L966.7 81.1L965.3 86.3L963.8 89.6L961.8 92.3L959.5 94.1" stroke="#d8d8d8" stroke-width="1.3" fill="none" stroke-linejoin="round" stroke-linecap="round" />
<path d="M1023.9 66.8L1015.9 71.3L1008.2 75.4L1000.5 78.5L994.6 81.1L986.8 84.5L981.0 88.3L979.2 90.8L976.0 93.1L973.1 96.1" stroke="#d8d8d8" stroke-width="1.3" fill="none" stroke-linejoin="round" stroke-linecap="round" />
<path d="M1037.5 113.6L1029.1 112.8L1020.4 112.5L1012.2 111.7L1003.2 112.0L994.3 111.7L984.9 110.5L982.2 111.8L978.7 110.7L975.1 111.7" stroke="#d8d8d8" stroke-width="1.3" fill="none" stroke-linejoin="round" stroke-linecap="round" />
<path d="M975.1 113.6L977.0 122.3L978.4 129.4L979.0 137.1L982.6 144.3L986.1 152.8L988.8 160.5L990.3 167.5L993.3 176.9L994.6 183.9" stroke="#d8d8d8" stroke-width="1.3" fill="none" stroke-linejoin="round" stroke-linecap="round" />
<path d="M955.6 129.2L953.5 136.3L952.8 141.6L951.7 148.8L948.7 155.7L947.2 160.9L943.9 168.3L942.8 172.6L941.7 178.4L940.0 183.9" stroke="#d8d8d8" stroke-width="1.3" fill="none" stroke-linejoin="round" stroke-linecap="round" />
<path d="M940.0 125.3L934.8 130.1L928.3 134.0L922.4 137.1L914.3 140.2L907.0 144.0L899.0 148.8L892.0 151.8L886.2 154.6L879.5 158.5" stroke="#d8d8d8" stroke-width="1.3" fill="none" stroke-linejoin="round" stroke-linecap="round" />
<path d="M924.4 103.9L915.1 104.2L907.1 103.9L899.0 102.7L891.3 101.6L882.0 100.9L873.7 100.0" stroke="#d8d8d8" stroke-width="1.3" fill="none" stroke-linejoin="round" stroke-linecap="round" />
<path d="M938.0 93.4L942.2 93.8L945.9 94.1L949.7 94.1L954.7 93.6L957.9 93.5L962.2 92.6" stroke="#d8d8d8" stroke-width="1.3" fill="none" stroke-linejoin="round" stroke-linecap="round" />
<path d="M940.1 117.1L943.3 119.9L951.1 122.1L955.3 120.0L954.4 113.5L953.8 113.1L950.3 113.8L940.3 116.9Z" fill="#484848" stroke="#0e0e0e" stroke-width="2.1" stroke-linejoin="round"/>
<path d="M963.4 97.7L960.4 101.2L965.2 107.1L970.4 108.9L979.7 103.8L979.5 103.3L978.9 102.1L978.2 101.0L977.5 99.9L976.7 98.8L975.8 97.8L974.8 96.8L973.8 95.8L972.7 94.9Z" fill="#484848" stroke="#0e0e0e" stroke-width="2.1" stroke-linejoin="round"/>
<path d="M964.0 124.4L954.3 128.2L952.1 131.3L953.9 136.2L954.1 136.2L955.8 136.0L957.4 135.6L959.0 135.2L960.5 134.8L962.0 134.3L963.5 133.7L965.0 133.1L966.4 132.5L967.8 131.8L967.8 131.7L964.7 124.4L964.7 124.4Z" fill="#484848" stroke="#0e0e0e" stroke-width="2.1" stroke-linejoin="round"/>
<path d="M960.0 113.6L954.4 113.5L955.3 120.0L964.0 124.4L964.7 124.4Z" fill="#484848" stroke="#0e0e0e" stroke-width="2.1" stroke-linejoin="round"/>
<path d="M940.4 136.1L940.9 136.2L942.5 136.4L944.2 136.6L945.8 136.7L947.5 136.7L949.2 136.7L950.8 136.6L952.5 136.4L953.9 136.2L952.1 131.3L947.3 130.1Z" fill="#484848" stroke="#0e0e0e" stroke-width="2.1" stroke-linejoin="round"/>
<path d="M940.7 114.2L940.3 116.9L950.3 113.8L949.6 105.6Z" fill="#484848" stroke="#0e0e0e" stroke-width="2.1" stroke-linejoin="round"/>
<path d="M939.7 104.0L941.0 98.0L932.6 100.0L930.5 104.5Z" fill="#484848" stroke="#0e0e0e" stroke-width="2.1" stroke-linejoin="round"/>
<path d="M954.5 87.2L954.1 87.2L952.5 87.0L950.8 86.8L949.2 86.7L947.5 86.7L945.8 86.7L944.2 86.8L942.5 87.0L940.9 87.2L940.7 87.2L941.2 95.5L941.8 96.5L951.8 97.5Z" fill="#484848" stroke="#0e0e0e" stroke-width="2.1" stroke-linejoin="round"/>
<path d="M954.3 128.2L964.0 124.4L955.3 120.0L951.1 122.1Z" fill="#484848" stroke="#0e0e0e" stroke-width="2.1" stroke-linejoin="round"/>
<path d="M981.1 115.4L981.1 115.4L981.3 114.2L981.5 112.9L981.5 111.7L981.5 110.5L981.3 109.2L981.1 108.0L980.8 106.8L980.5 105.6L980.0 104.4L979.7 103.8L970.4 108.9L970.5 118.2Z" fill="#484848" stroke="#0e0e0e" stroke-width="2.1" stroke-linejoin="round"/>
<path d="M951.8 97.5L954.1 100.1L955.0 100.6L960.4 101.2L963.4 97.7L963.1 89.5L962.0 89.1L960.5 88.6L959.0 88.2L957.4 87.8L955.8 87.4L954.5 87.2Z" fill="#484848" stroke="#0e0e0e" stroke-width="2.1" stroke-linejoin="round"/>
<path d="M941.0 98.0L941.8 96.5L941.2 95.5L930.8 93.1L930.0 97.5L932.6 100.0Z" fill="#484848" stroke="#0e0e0e" stroke-width="2.1" stroke-linejoin="round"/>
<path d="M967.8 131.7L969.1 131.0L970.3 130.2L971.5 129.4L972.7 128.5L973.8 127.6L974.8 126.6L975.8 125.6L976.7 124.6L977.5 123.5L978.2 122.5L970.5 118.2L964.7 124.4Z" fill="#484848" stroke="#0e0e0e" stroke-width="2.1" stroke-linejoin="round"/>
<path d="M917.0 107.1L925.4 113.7L927.5 106.6L925.6 100.4L924.8 99.8Z" fill="#484848" stroke="#0e0e0e" stroke-width="2.1" stroke-linejoin="round"/>
<path d="M932.6 100.0L930.0 97.5L925.6 100.4L927.5 106.6L930.5 104.5Z" fill="#484848" stroke="#0e0e0e" stroke-width="2.1" stroke-linejoin="round"/>
<path d="M964.7 124.4L970.5 118.2L970.5 118.2L970.4 108.9L965.2 107.1L960.0 113.6L964.7 124.4Z" fill="#484848" stroke="#0e0e0e" stroke-width="2.1" stroke-linejoin="round"/>
<path d="M921.7 96.9L916.8 107.0L917.0 107.1L924.8 99.8Z" fill="#484848" stroke="#0e0e0e" stroke-width="2.1" stroke-linejoin="round"/>
<path d="M925.6 100.4L930.0 97.5L930.8 93.1L928.8 90.8L928.6 90.9L927.2 91.6L925.9 92.4L924.7 93.2L923.5 94.0L922.3 94.9L921.3 95.8L921.7 96.9L924.8 99.8Z" fill="#484848" stroke="#0e0e0e" stroke-width="2.1" stroke-linejoin="round"/>
<path d="M965.2 107.1L960.4 101.2L955.0 100.6L953.8 113.1L954.4 113.5L960.0 113.6Z" fill="#484848" stroke="#0e0e0e" stroke-width="2.1" stroke-linejoin="round"/>
<path d="M954.1 100.1L951.8 97.5L941.8 96.5L941.0 98.0L939.7 104.0L940.3 107.9L952.5 101.9Z" fill="#484848" stroke="#0e0e0e" stroke-width="2.1" stroke-linejoin="round"/>
<path d="M947.3 130.1L952.1 131.3L954.3 128.2L951.1 122.1L943.3 119.9Z" fill="#484848" stroke="#0e0e0e" stroke-width="2.1" stroke-linejoin="round"/>
<path d="M930.8 93.1L941.2 95.5L940.7 87.2L939.2 87.4L937.6 87.8L936.0 88.2L934.5 88.6L933.0 89.1L931.5 89.7L930.0 90.3L928.8 90.8Z" fill="#484848" stroke="#0e0e0e" stroke-width="2.1" stroke-linejoin="round"/>
<path d="M952.5 101.9L940.3 107.9L940.7 114.2L949.6 105.6Z" fill="#484848" stroke="#0e0e0e" stroke-width="2.1" stroke-linejoin="round"/>
<path d="M972.7 94.9L972.7 94.9L971.5 94.0L970.3 93.2L969.1 92.4L967.8 91.6L966.4 90.9L965.0 90.3L963.5 89.7L963.1 89.5L963.4 97.7Z" fill="#484848" stroke="#0e0e0e" stroke-width="2.1" stroke-linejoin="round"/>
<path d="M950.3 113.8L953.8 113.1L955.0 100.6L954.1 100.1L952.5 101.9L949.6 105.6Z" fill="#484848" stroke="#0e0e0e" stroke-width="2.1" stroke-linejoin="round"/>
<path d="M940.1 117.1L943.3 119.9L951.1 122.1L955.3 120.0L954.4 113.5L953.8 113.1L950.3 113.8L940.3 116.9L940.1 117.1M963.4 97.7L960.4 101.2L965.2 107.1L970.4 108.9L979.7 103.8L979.5 103.3L978.9 102.1L978.2 101.0L977.5 99.9L976.7 98.8L975.8 97.8L974.8 96.8L973.8 95.8L972.7 94.9L963.4 97.7M964.0 124.4L954.3 128.2L952.1 131.3L953.9 136.2L954.1 136.2L955.8 136.0L957.4 135.6L959.0 135.2L960.5 134.8L962.0 134.3L963.5 133.7L965.0 133.1L966.4 132.5L967.8 131.8L967.8 131.7L964.7 124.4L964.7 124.4L964.0 124.4M960.0 113.6L954.4 113.5L955.3 120.0L964.0 124.4L964.7 124.4L960.0 113.6M940.4 136.1L940.9 136.2L942.5 136.4L944.2 136.6L945.8 136.7L947.5 136.7L949.2 136.7L950.8 136.6L952.5 136.4L953.9 136.2L952.1 131.3L947.3 130.1L940.4 136.1M940.7 114.2L940.3 116.9L950.3 113.8L949.6 105.6L940.7 114.2M939.7 104.0L941.0 98.0L932.6 100.0L930.5 104.5L939.7 104.0M954.5 87.2L954.1 87.2L952.5 87.0L950.8 86.8L949.2 86.7L947.5 86.7L945.8 86.7L944.2 86.8L942.5 87.0L940.9 87.2L940.7 87.2L941.2 95.5L941.8 96.5L951.8 97.5L954.5 87.2M954.3 128.2L964.0 124.4L955.3 120.0L951.1 122.1L954.3 128.2M981.1 115.4L981.1 115.4L981.3 114.2L981.5 112.9L981.5 111.7L981.5 110.5L981.3 109.2L981.1 108.0L980.8 106.8L980.5 105.6L980.0 104.4L979.7 103.8L970.4 108.9L970.5 118.2L981.1 115.4M951.8 97.5L954.1 100.1L955.0 100.6L960.4 101.2L963.4 97.7L963.1 89.5L962.0 89.1L960.5 88.6L959.0 88.2L957.4 87.8L955.8 87.4L954.5 87.2L951.8 97.5M941.0 98.0L941.8 96.5L941.2 95.5L930.8 93.1L930.0 97.5L932.6 100.0L941.0 98.0M967.8 131.7L969.1 131.0L970.3 130.2L971.5 129.4L972.7 128.5L973.8 127.6L974.8 126.6L975.8 125.6L976.7 124.6L977.5 123.5L978.2 122.5L970.5 118.2L964.7 124.4L967.8 131.7M917.0 107.1L925.4 113.7L927.5 106.6L925.6 100.4L924.8 99.8L917.0 107.1M932.6 100.0L930.0 97.5L925.6 100.4L927.5 106.6L930.5 104.5L932.6 100.0M964.7 124.4L970.5 118.2L970.5 118.2L970.4 108.9L965.2 107.1L960.0 113.6L964.7 124.4L964.7 124.4M921.7 96.9L916.8 107.0L917.0 107.1L924.8 99.8L921.7 96.9M925.6 100.4L930.0 97.5L930.8 93.1L928.8 90.8L928.6 90.9L927.2 91.6L925.9 92.4L924.7 93.2L923.5 94.0L922.3 94.9L921.3 95.8L921.7 96.9L924.8 99.8L925.6 100.4M965.2 107.1L960.4 101.2L955.0 100.6L953.8 113.1L954.4 113.5L960.0 113.6L965.2 107.1M954.1 100.1L951.8 97.5L941.8 96.5L941.0 98.0L939.7 104.0L940.3 107.9L952.5 101.9L954.1 100.1M947.3 130.1L952.1 131.3L954.3 128.2L951.1 122.1L943.3 119.9L947.3 130.1M930.8 93.1L941.2 95.5L940.7 87.2L939.2 87.4L937.6 87.8L936.0 88.2L934.5 88.6L933.0 89.1L931.5 89.7L930.0 90.3L928.8 90.8L930.8 93.1M952.5 101.9L940.3 107.9L940.7 114.2L949.6 105.6L952.5 101.9M972.7 94.9L972.7 94.9L971.5 94.0L970.3 93.2L969.1 92.4L967.8 91.6L966.4 90.9L965.0 90.3L963.5 89.7L963.1 89.5L963.4 97.7L972.7 94.9M950.3 113.8L953.8 113.1L955.0 100.6L954.1 100.1L952.5 101.9L949.6 105.6L950.3 113.8" stroke="#c4c4c4" stroke-width="0.7" fill="none" opacity="0.75"/>
<ellipse cx="955.2" cy="106.8" rx="83.3" ry="78.1" fill="none" stroke="#1a1a1a" stroke-width="1.2"/>
</g>
<path d="M928.5 62.6Q946 52.6 963 58.9" stroke="#fff000" stroke-width="2.5" fill="none"/><path d="M923.6 64.2L931.4 57.6L932.6 65.6Z M968 59.6L960.6 54.4L959.2 62.4Z" fill="#fff000"/>
<text transform="translate(943.3 82.9) scale(1.2 1)" style="font-family:'Liberation Serif',serif;font-size:31px;font-style:italic;fill:#fff000">x</text>
<text x="958.8" y="88.2" style="font-family:'Liberation Serif',serif;font-size:24px;font-style:italic;fill:#fff000">c</text>
<g clip-path="url(#c3)">
<rect x="1467.8" y="97" width="155.9" height="153.6" fill="#cecece"/>
<circle cx="1546.5" cy="174.3" r="75.3" fill="url(#rim3)"/>
<g clip-path="url(#d3)">
<rect x="1467.8" y="97" width="156" height="154" filter="url(#nz)" opacity="0.3" mask="url(#m3)"/>
<g filter="url(#bl1)">
<path d="M1512.1 200.1L1523.0 195.8L1533.9 200.8L1534.6 212.8L1524.8 218.2L1513.9 214.6Z" fill="#b8b8b8"/>
<path d="M1580.3 137.8L1593.7 134.1L1604.5 142.1L1604.5 154.8L1591.9 157.3L1582.8 149.4Z" fill="#a4a4a4"/>
</g>
<path d="M1526.1 193.2L1525.0 198.1L1523.2 202.8L1520.0 206.6L1516.4 210.1M1509.6 207.4L1506.8 203.3L1505.4 198.5L1506.9 193.7L1508.0 188.8M1559.1 192.9L1555.6 189.3L1553.3 184.9L1552.0 180.0L1547.6 177.6M1548.8 164.0L1553.6 162.9L1557.3 159.6L1562.1 158.0L1567.1 158.4M1580.1 207.9L1580.3 212.9L1578.9 217.7L1574.3 219.7L1572.6 224.4M1527.6 215.9L1522.7 215.3L1519.2 211.7L1518.5 206.8L1516.1 202.4M1575.3 211.9L1570.5 213.3L1565.8 214.8L1561.4 217.2L1560.3 222.1M1572.5 203.7L1571.1 198.9L1572.0 194.0L1573.2 189.1L1577.2 186.1M1528.0 147.1L1533.0 147.5L1536.7 144.2L1541.7 143.7L1545.8 146.5M1546.7 155.1L1541.9 153.5L1539.4 149.2L1538.2 144.3L1539.1 139.4M1517.5 150.6L1522.4 150.0L1526.6 147.2L1530.4 144.0L1535.2 142.6M1530.7 140.7L1526.3 138.2L1521.4 137.5L1516.8 139.5L1511.8 139.8M1537.2 228.5L1532.5 230.1M1584.2 141.1L1581.3 137.0L1576.6 135.4L1572.2 137.8L1569.8 142.2M1539.1 161.6L1538.9 166.6L1541.7 170.7L1545.6 173.9L1550.5 174.9M1537.6 156.4L1542.5 157.3L1546.8 159.8L1550.8 162.8L1554.8 165.8M1600.4 164.3L1598.5 159.6L1597.3 154.8M1519.7 142.6L1515.0 140.8L1511.4 137.3L1510.0 132.6M1501.8 171.5L1497.7 174.4L1492.8 173.6L1489.6 169.7M1577.5 218.0L1576.2 213.2L1578.1 208.6L1578.0 203.6L1578.8 198.6M1529.5 223.2L1525.8 219.9L1522.1 216.5L1519.0 212.6L1514.4 210.5M1562.9 210.7L1567.5 212.9L1569.1 217.6L1567.8 222.4L1570.5 226.7M1569.0 130.7L1564.5 128.5L1561.5 124.5L1556.8 122.6L1553.8 118.7M1531.1 205.8L1530.2 210.8L1531.8 215.5L1530.1 220.2L1528.3 224.9M1574.5 212.0L1570.5 215.1L1565.5 215.4L1561.1 217.8L1560.0 222.7M1551.6 125.1L1550.2 129.9L1548.5 134.6L1546.1 139.0L1542.4 142.4M1502.9 177.2L1499.5 173.5L1494.7 172.2L1489.8 171.1M1564.0 123.6L1559.0 123.6L1555.2 126.9L1552.1 130.8L1552.7 135.8M1510.6 211.5L1515.4 213.0L1520.3 213.1L1524.2 216.3L1529.2 216.8M1555.9 188.9L1557.1 184.0L1561.3 181.2L1564.2 177.2L1569.0 175.6M1526.9 123.0L1531.7 124.5L1536.6 123.9L1541.0 126.4L1543.6 130.7M1533.0 193.9L1536.9 190.8L1541.0 187.8L1545.9 188.2L1550.9 188.4M1545.7 222.3L1540.9 223.4L1535.9 222.7L1532.7 218.9L1528.1 216.9M1565.8 127.8L1561.3 129.8L1556.3 130.4L1551.9 132.8L1549.0 136.9M1564.8 150.3L1566.6 154.9L1564.1 159.3L1563.2 164.2L1563.2 169.2M1498.1 160.4L1502.8 162.1L1507.8 161.4L1511.8 164.4L1516.2 166.7M1583.1 160.9L1578.1 160.2L1573.5 162.2L1569.9 165.6L1567.1 169.8M1564.0 207.6L1567.9 210.7L1568.2 215.7L1565.5 219.9L1561.9 223.4" stroke="#2a2a2a" stroke-width="0.8" fill="none" stroke-linejoin="round" opacity="0.7"/>
</g>
<path d="M1584.6 113.1L1580.5 118.4L1577.2 124.6L1573.7 131.2L1568.7 137.1L1566.0 143.9L1561.0 149.4L1559.1 153.1L1556.3 157.4L1553.8 162.1" stroke="#1a1a1a" stroke-width="3.0" fill="none" stroke-linejoin="round" stroke-linecap="round" />
<path d="M1504.9 125.8L1509.1 130.5L1514.0 137.5L1519.4 142.1L1524.2 148.7L1528.4 153.6L1532.1 160.2" stroke="#1a1a1a" stroke-width="3.0" fill="none" stroke-linejoin="round" stroke-linecap="round" />
<path d="M1624.5 171.1L1613.3 171.9L1603.1 173.0L1591.9 172.9L1584.1 173.0L1575.1 174.9L1566.5 175.5L1563.5 175.9L1560.4 176.7L1557.4 178.4" stroke="#1a1a1a" stroke-width="3.0" fill="none" stroke-linejoin="round" stroke-linecap="round" />
<path d="M1481.3 211.7L1489.9 208.5L1497.1 203.6L1504.9 200.1L1514.7 194.8L1523.7 189.9L1532.1 183.8" stroke="#1a1a1a" stroke-width="3.0" fill="none" stroke-linejoin="round" stroke-linecap="round" />
<path d="M1535.7 249.0L1536.9 237.4L1538.3 226.0L1539.3 214.6L1539.3 204.6L1541.1 194.5L1541.1 185.6" stroke="#1a1a1a" stroke-width="3.0" fill="none" stroke-linejoin="round" stroke-linecap="round" />
<path d="M1584.6 113.1L1580.5 118.4L1577.2 124.6L1573.7 131.2L1568.7 137.1L1566.0 143.9L1561.0 149.4L1559.1 153.1L1556.3 157.4L1553.8 162.1" stroke="#d8d8d8" stroke-width="1.2" fill="none" stroke-linejoin="round" stroke-linecap="round" />
<path d="M1504.9 125.8L1509.1 130.5L1514.0 137.5L1519.4 142.1L1524.2 148.7L1528.4 153.6L1532.1 160.2" stroke="#d8d8d8" stroke-width="1.2" fill="none" stroke-linejoin="round" stroke-linecap="round" />
<path d="M1624.5 171.1L1613.3 171.9L1603.1 173.0L1591.9 172.9L1584.1 173.0L1575.1 174.9L1566.5 175.5L1563.5 175.9L1560.4 176.7L1557.4 178.4" stroke="#d8d8d8" stroke-width="1.2" fill="none" stroke-linejoin="round" stroke-linecap="round" />
<path d="M1481.3 211.7L1489.9 208.5L1497.1 203.6L1504.9 200.1L1514.7 194.8L1523.7 189.9L1532.1 183.8" stroke="#d8d8d8" stroke-width="1.2" fill="none" stroke-linejoin="round" stroke-linecap="round" />
<path d="M1535.7 249.0L1536.9 237.4L1538.3 226.0L1539.3 214.6L1539.3 204.6L1541.1 194.5L1541.1 185.6" stroke="#d8d8d8" stroke-width="1.2" fill="none" stroke-linejoin="round" stroke-linecap="round" />
<ellipse cx="1541.8" cy="174.7" rx="15.5" ry="16" fill="#222" filter="url(#bl1)"/>
<path d="M1544.7 185.6L1549.2 188.4L1549.7 188.1L1550.6 181.8L1546.5 179.7Z" fill="#4e4e4e" stroke="#111" stroke-width="1.6" stroke-linejoin="round"/>
<path d="M1541.3 175.8L1541.1 169.5L1535.9 169.8L1534.8 179.4L1535.9 179.6Z" fill="#4e4e4e" stroke="#111" stroke-width="1.6" stroke-linejoin="round"/>
<path d="M1530.3 165.3L1529.9 164.8L1529.9 164.9L1529.4 165.5L1529.0 166.1L1528.5 166.8L1528.2 167.4L1527.8 168.1L1527.5 168.8L1527.2 169.5L1527.0 170.2L1526.8 171.0L1526.6 171.7L1526.5 172.5L1526.4 173.2L1526.4 174.0L1526.3 174.7L1526.4 175.5L1526.4 176.3L1526.5 177.0L1526.6 177.8L1526.8 178.5L1527.0 179.1Z" fill="#4e4e4e" stroke="#111" stroke-width="1.6" stroke-linejoin="round"/>
<path d="M1538.6 180.9L1541.5 186.3L1544.7 185.6L1546.5 179.7L1546.2 179.3Z" fill="#4e4e4e" stroke="#111" stroke-width="1.6" stroke-linejoin="round"/>
<path d="M1549.7 188.1L1549.8 188.0L1550.5 187.6L1551.1 187.2L1551.7 186.7L1552.2 186.2L1552.8 185.7L1553.3 185.1L1553.8 184.6L1554.3 184.0L1554.7 183.4L1555.1 182.7L1555.5 182.0L1555.9 181.4L1556.2 180.7L1556.2 180.5L1554.8 180.4L1550.6 181.8Z" fill="#4e4e4e" stroke="#111" stroke-width="1.6" stroke-linejoin="round"/>
<path d="M1541.5 161.1L1534.7 161.0L1534.5 161.1L1533.9 161.4L1533.2 161.9L1532.6 162.3L1532.0 162.8L1531.4 163.3L1530.9 163.8L1530.4 164.3L1529.9 164.8L1530.3 165.3L1533.3 167.1Z" fill="#4e4e4e" stroke="#111" stroke-width="1.6" stroke-linejoin="round"/>
<path d="M1545.6 168.4L1541.1 169.5L1541.3 175.8L1546.4 176.2L1548.0 172.2Z" fill="#4e4e4e" stroke="#111" stroke-width="1.6" stroke-linejoin="round"/>
<path d="M1546.4 176.2L1546.2 179.3L1546.5 179.7L1550.6 181.8L1554.8 180.4L1549.8 172.6L1548.0 172.2Z" fill="#4e4e4e" stroke="#111" stroke-width="1.6" stroke-linejoin="round"/>
<path d="M1546.4 176.2L1541.3 175.8L1535.9 179.6L1538.6 180.9L1546.2 179.3Z" fill="#4e4e4e" stroke="#111" stroke-width="1.6" stroke-linejoin="round"/>
<path d="M1545.0 159.6L1544.9 159.5L1544.1 159.4L1543.4 159.3L1542.6 159.3L1541.8 159.2L1541.1 159.3L1540.3 159.3L1539.6 159.4L1538.8 159.5L1538.1 159.7L1537.3 159.9L1536.6 160.1L1535.9 160.4L1535.2 160.7L1534.7 161.0L1541.5 161.1Z" fill="#4e4e4e" stroke="#111" stroke-width="1.6" stroke-linejoin="round"/>
<path d="M1549.8 172.6L1554.8 180.4L1556.2 180.5L1556.4 180.0L1556.7 179.2L1556.9 178.5L1557.0 177.8L1557.2 177.0L1557.3 176.3L1557.3 175.5L1557.3 174.7L1557.3 174.0L1557.3 173.2L1557.2 172.5L1557.0 171.7L1556.9 171.1Z" fill="#4e4e4e" stroke="#111" stroke-width="1.6" stroke-linejoin="round"/>
<path d="M1541.5 186.3L1540.1 190.1L1540.3 190.2L1541.1 190.2L1541.8 190.2L1542.6 190.2L1543.4 190.2L1544.1 190.1L1544.9 189.9L1545.6 189.8L1546.3 189.6L1547.1 189.3L1547.8 189.1L1548.5 188.8L1549.1 188.4L1549.2 188.4L1544.7 185.6Z" fill="#4e4e4e" stroke="#111" stroke-width="1.6" stroke-linejoin="round"/>
</g>
<text transform="translate(1580 159.5) scale(1.15 1)" style="font-family:'Liberation Serif',serif;font-size:30px;font-style:italic;fill:#fff000">λ</text>
<text x="1594.5" y="165.5" style="font-family:'Liberation Serif',serif;font-size:23px;font-style:italic;fill:#fff000">c</text>
<rect x="1591.5" y="170.6" width="5.5" height="4.6" fill="#fff000"/>
<path d="M153.8 346.4v-6M153.8 10.7v6M228.84 346.4v-6M228.84 10.7v6M303.88 346.4v-6M303.88 10.7v6M378.92 346.4v-6M378.92 10.7v6M453.96 346.4v-6M453.96 10.7v6M191.32 346.4v-3M191.32 10.7v3M266.36 346.4v-3M266.36 10.7v3M341.4 346.4v-3M341.4 10.7v3M416.44 346.4v-3M416.44 10.7v3M491.48 346.4v-3M491.48 10.7v3M116.3 323.5h6M529 323.5h-6M116.3 231.5h6M529 231.5h-6M116.3 139.5h6M529 139.5h-6M116.3 47.5h6M529 47.5h-6M116.3 277.5h3M529 277.5h-3M116.3 185.5h3M529 185.5h-3M116.3 93.5h3M529 93.5h-3" stroke="#1a1a1a" stroke-width="1.4" fill="none"/>
<rect x="116.3" y="10.7" width="412.7" height="335.7" fill="none" stroke="#1a1a1a" stroke-width="1.5"/>
<text transform="translate(153.8 380) scale(0.933 1)" text-anchor="middle" class="tl">100</text>
<text transform="translate(228.84 380) scale(0.933 1)" text-anchor="middle" class="tl">80</text>
<text transform="translate(303.88 380) scale(0.933 1)" text-anchor="middle" class="tl">60</text>
<text transform="translate(378.92 380) scale(0.933 1)" text-anchor="middle" class="tl">40</text>
<text transform="translate(453.96 380) scale(0.933 1)" text-anchor="middle" class="tl">20</text>
<text transform="translate(529 380) scale(0.933 1)" text-anchor="middle" class="tl">0</text>
<text transform="translate(108.9 333.4) scale(0.933 1)" text-anchor="end" class="tl">0.2</text>
<text transform="translate(108.9 241.4) scale(0.933 1)" text-anchor="end" class="tl">0.4</text>
<text transform="translate(108.9 149.4) scale(0.933 1)" text-anchor="end" class="tl">0.6</text>
<text transform="translate(108.9 57.4) scale(0.933 1)" text-anchor="end" class="tl">0.8</text>
<path d="M693.1 348v-6M693.1 18.7v6M766.94 348v-6M766.94 18.7v6M840.78 348v-6M840.78 18.7v6M914.62 348v-6M914.62 18.7v6M988.46 348v-6M988.46 18.7v6M730.02 348v-3M730.02 18.7v3M803.86 348v-3M803.86 18.7v3M877.7 348v-3M877.7 18.7v3M951.54 348v-3M951.54 18.7v3M1025.38 348v-3M1025.38 18.7v3M656.6 238.23h6M1062.3 238.23h-6M656.6 128.46h6M1062.3 128.46h-6M656.6 293.12h3M1062.3 293.12h-3M656.6 183.34h3M1062.3 183.34h-3M656.6 73.58h3M1062.3 73.58h-3" stroke="#1a1a1a" stroke-width="1.4" fill="none"/>
<rect x="656.6" y="18.7" width="405.7" height="329.3" fill="none" stroke="#1a1a1a" stroke-width="1.5"/>
<text transform="translate(693.1 381.6) scale(0.933 1)" text-anchor="middle" class="tl">100</text>
<text transform="translate(766.94 381.6) scale(0.933 1)" text-anchor="middle" class="tl">80</text>
<text transform="translate(840.78 381.6) scale(0.933 1)" text-anchor="middle" class="tl">60</text>
<text transform="translate(914.62 381.6) scale(0.933 1)" text-anchor="middle" class="tl">40</text>
<text transform="translate(988.46 381.6) scale(0.933 1)" text-anchor="middle" class="tl">20</text>
<text transform="translate(1062.3 381.6) scale(0.933 1)" text-anchor="middle" class="tl">0</text>
<text transform="translate(648.9 357.9) scale(0.933 1)" text-anchor="end" class="tl">0.0</text>
<text transform="translate(648.9 248.13) scale(0.933 1)" text-anchor="end" class="tl">0.3</text>
<text transform="translate(648.9 138.36) scale(0.933 1)" text-anchor="end" class="tl">0.6</text>
<text transform="translate(648.9 28.59) scale(0.933 1)" text-anchor="end" class="tl">0.9</text>
<path d="M1264.8 349v-6M1264.8 13.5v6M1339.94 349v-6M1339.94 13.5v6M1415.08 349v-6M1415.08 13.5v6M1490.22 349v-6M1490.22 13.5v6M1565.36 349v-6M1565.36 13.5v6M1302.37 349v-3M1302.37 13.5v3M1377.51 349v-3M1377.51 13.5v3M1452.65 349v-3M1452.65 13.5v3M1527.79 349v-3M1527.79 13.5v3M1602.93 349v-3M1602.93 13.5v3M1227.3 334.4h6M1640.5 334.4h-6M1227.3 259.7h6M1640.5 259.7h-6M1227.3 185h6M1640.5 185h-6M1227.3 110.3h6M1640.5 110.3h-6M1227.3 35.6h6M1640.5 35.6h-6M1227.3 297.05h3M1640.5 297.05h-3M1227.3 222.35h3M1640.5 222.35h-3M1227.3 147.65h3M1640.5 147.65h-3M1227.3 72.95h3M1640.5 72.95h-3" stroke="#1a1a1a" stroke-width="1.4" fill="none"/>
<rect x="1227.3" y="13.5" width="413.2" height="335.5" fill="none" stroke="#1a1a1a" stroke-width="1.5"/>
<text transform="translate(1264.8 383.4) scale(0.933 1)" text-anchor="middle" class="tl">100</text>
<text transform="translate(1339.94 383.4) scale(0.933 1)" text-anchor="middle" class="tl">80</text>
<text transform="translate(1415.08 383.4) scale(0.933 1)" text-anchor="middle" class="tl">60</text>
<text transform="translate(1490.22 383.4) scale(0.933 1)" text-anchor="middle" class="tl">40</text>
<text transform="translate(1565.36 383.4) scale(0.933 1)" text-anchor="middle" class="tl">20</text>
<text transform="translate(1640.5 383.4) scale(0.933 1)" text-anchor="middle" class="tl">0</text>
<text transform="translate(1219.2 344.3) scale(0.933 1)" text-anchor="end" class="tl">0.00</text>
<text transform="translate(1219.2 269.6) scale(0.933 1)" text-anchor="end" class="tl">0.01</text>
<text transform="translate(1219.2 194.9) scale(0.933 1)" text-anchor="end" class="tl">0.02</text>
<text transform="translate(1219.2 120.2) scale(0.933 1)" text-anchor="end" class="tl">0.03</text>
<text transform="translate(1219.2 45.5) scale(0.933 1)" text-anchor="end" class="tl">0.04</text>
<text x="10.6" y="40.8" class="pl"><tspan style="font-size:29px">(</tspan>I<tspan style="font-size:29px">)</tspan></text>
<text x="547.2" y="40.5" class="pl"><tspan style="font-size:29px">(</tspan><tspan letter-spacing="0.8">I</tspan>I<tspan style="font-size:29px">)</tspan></text>
<text x="1081.3" y="40.5" class="pl"><tspan style="font-size:29px">(</tspan><tspan letter-spacing="0.5">II</tspan>I<tspan style="font-size:29px">)</tspan></text>
<text x="267.4" y="423.6" class="xl">Ø (v/v)%</text>
<text x="805" y="421.8" class="xl">Ø (v/v)%</text>
<text x="1402.1" y="423.6" class="xl">Ø (v/v)%</text>
<g transform="translate(37.3 228) rotate(-90)"><text transform="translate(-1 0) scale(1.09 1)" class="sf" font-style="italic">w</text><text transform="translate(27.5 4) scale(1.12 1.24)" class="sf">/</text><text x="41.7" y="0" class="sf" font-style="italic">R</text><path d="M2.3 -25.5H24.1M48.7 -31.5H66.6" stroke="#000" stroke-width="1.8"/></g>
<g transform="translate(578.3 232.4) rotate(-90)"><text x="0" y="0" class="sf" font-style="italic">x</text><text x="20" y="6.8" class="sf" font-style="italic" style="font-size:27px">c</text><text x="44" y="0" class="sf">(mm)</text><path d="M5.7 -23.6H20" stroke="#000" stroke-width="1.8"/></g>
<g transform="translate(1131.5 231.7) rotate(-90)"><text transform="translate(1.5 0) scale(1.15 1)" class="sf" font-style="italic">λ</text><text x="20" y="7.7" class="sf" font-style="italic" style="font-size:27px">c</text><text x="43.5" y="0" class="sf">(mm)</text><path d="M1.2 -31H17.2" stroke="#000" stroke-width="1.8"/></g>
<path d="M153.7 38.3V84.2M149.5 38.3h8.4M149.5 84.2h8.4M210.3 31.9V97M206.1 31.9h8.4M206.1 97h8.4M247.9 86.8V139.5M243.7 86.8h8.4M243.7 139.5h8.4M296.4 201.6V214.7M292.2 201.6h8.4M292.2 214.7h8.4M341.5 201.3V215.1M337.3 201.3h8.4M337.3 215.1h8.4M435.5 264.4V277M431.3 264.4h8.4M431.3 277h8.4" stroke="#444" stroke-width="1.2" fill="none"/>
<path d="M158.6 95.1L476 308.3" stroke="#333" stroke-width="1.1" stroke-dasharray="5 4" fill="none"/>
<path d="M153.4 38.3L292.7 202.3" stroke="#000" stroke-width="2" fill="none" stroke-linejoin="round"/>
<path d="M296.1 195.5L483 310.7" stroke="#000" stroke-width="2" fill="none" stroke-linejoin="round"/>
<rect x="149.2" y="56.6" width="9" height="9" fill="#000"/>
<rect x="205.8" y="59.8" width="9" height="9" fill="#000"/>
<rect x="243.4" y="108.6" width="9" height="9" fill="#000"/>
<rect x="291.9" y="203.6" width="9" height="9" fill="#000"/>
<rect x="337" y="203.3" width="9" height="9" fill="#000"/>
<rect x="431" y="266.3" width="9" height="9" fill="#000"/>
<rect x="477.6" y="311" width="9" height="9" fill="#000"/>
<path d="M693 36.1V184.4M688.8 36.1h8.4M688.8 184.4h8.4M748.1 108.3V178.1M743.9 108.3h8.4M743.9 178.1h8.4M785.4 140.8V243.5M781.2 140.8h8.4M781.2 243.5h8.4M833.2 235.8V285.2M829 235.8h8.4M829 285.2h8.4M877.3 227.7V279M873.1 227.7h8.4M873.1 279h8.4M970 251.5V300.4M965.8 251.5h8.4M965.8 300.4h8.4M1016.2 259.6V313.8M1012 259.6h8.4M1012 313.8h8.4" stroke="#444" stroke-width="1.2" fill="none"/>
<path d="M697.4 161.7L1016 301.9" stroke="#333" stroke-width="1.1" stroke-dasharray="5 4" fill="none"/>
<path d="M692.9 81.9L831.5 255.5L1016.2 284.6" stroke="#000" stroke-width="2" fill="none" stroke-linejoin="round"/>
<rect x="688.5" y="105.1" width="9" height="9" fill="#000"/>
<rect x="743.6" y="138.7" width="9" height="9" fill="#000"/>
<rect x="780.9" y="187.9" width="9" height="9" fill="#000"/>
<rect x="828.7" y="256" width="9" height="9" fill="#000"/>
<rect x="872.8" y="248.5" width="9" height="9" fill="#000"/>
<rect x="965.5" y="270.9" width="9" height="9" fill="#000"/>
<rect x="1011.7" y="281.9" width="9" height="9" fill="#000"/>
<path d="M1264.5 26V150.7M1260.3 26h8.4M1260.3 150.7h8.4M1320.5 146.2V211.7M1316.3 146.2h8.4M1316.3 211.7h8.4M1358.4 164.1V212.3M1354.2 164.1h8.4M1354.2 212.3h8.4M1407.2 249.3V268.5M1403 249.3h8.4M1403 268.5h8.4M1452.3 259.9V273.7M1448.1 259.9h8.4M1448.1 273.7h8.4M1546.2 278.4V291.8M1542 278.4h8.4M1542 291.8h8.4" stroke="#444" stroke-width="1.2" fill="none"/>
<path d="M1269 197.4L1590 306.1" stroke="#333" stroke-width="1.1" stroke-dasharray="5 4" fill="none"/>
<path d="M1264.4 96.4L1403 253.4" stroke="#000" stroke-width="2" fill="none" stroke-linejoin="round"/>
<path d="M1411.7 254.8L1593.6 307.6" stroke="#000" stroke-width="2" fill="none" stroke-linejoin="round"/>
<rect x="1260" y="83.5" width="9" height="9" fill="#000"/>
<rect x="1316" y="174.5" width="9" height="9" fill="#000"/>
<rect x="1353.9" y="183.5" width="9" height="9" fill="#000"/>
<rect x="1402.7" y="254" width="9" height="9" fill="#000"/>
<circle cx="1452.3" cy="266.7" r="6.3" fill="#000"/>
<circle cx="1546.2" cy="284.9" r="6.3" fill="#000"/>
<circle cx="1593.6" cy="309.6" r="6.3" fill="#000"/>
<rect x="1470.7" y="19.5" width="149.9" height="68.8" fill="#fff" stroke="#555" stroke-width="1.1"/>
<rect x="1502.3" y="41.8" width="9.3" height="9.3" fill="#000"/>
<circle cx="1506.8" cy="74.1" r="6.5" fill="#000"/>
<text x="1609.3" y="51.4" text-anchor="end" class="lg">Optical</text>
<text x="1607.6" y="82.3" text-anchor="end" class="lg">SEM</text>
</svg></body></html>
